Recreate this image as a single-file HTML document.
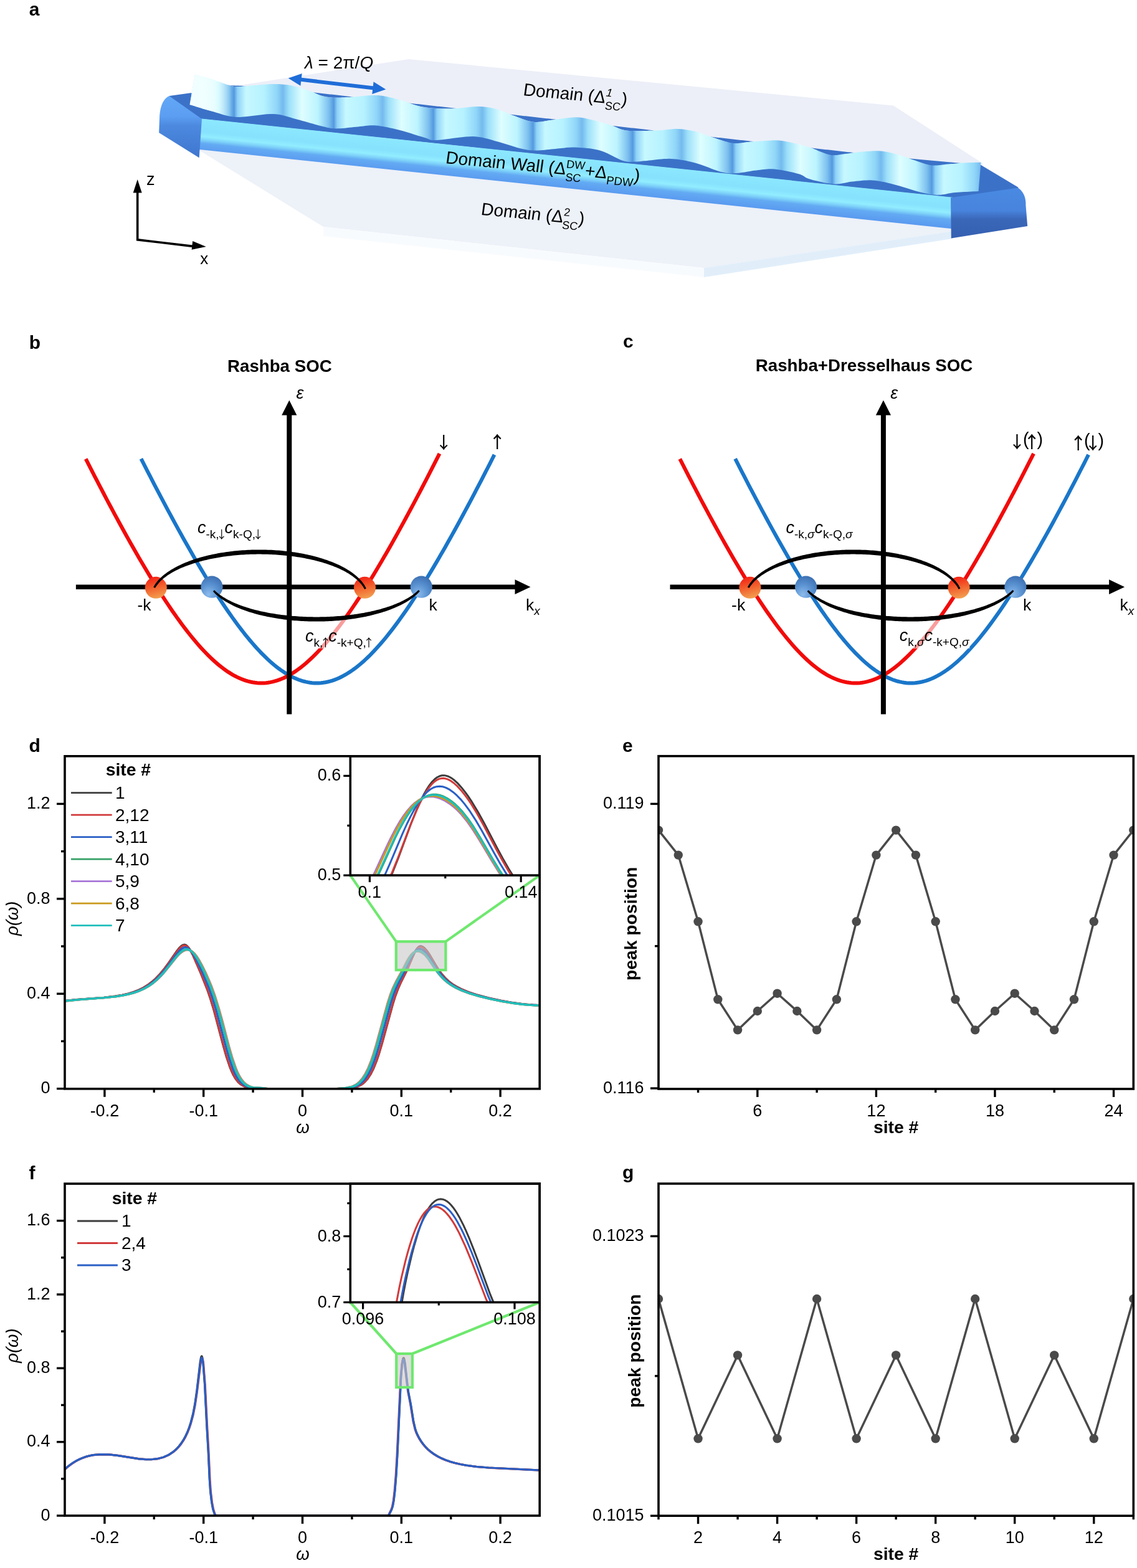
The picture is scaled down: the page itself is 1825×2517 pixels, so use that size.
<!DOCTYPE html>
<html><head><meta charset="utf-8"><title>Figure</title>
<style>html,body{margin:0;padding:0;background:#fff;} svg{display:block;}</style></head>
<body><svg xmlns="http://www.w3.org/2000/svg" width="1825" height="2517" viewBox="0 0 1825 2517" font-family="'Liberation Sans', Arial, sans-serif">
<defs><linearGradient id="gRed" x1="0.3" y1="0" x2="0.55" y2="1">
<stop offset="0" stop-color="#f41e14"/><stop offset="0.45" stop-color="#f25a2a"/><stop offset="1" stop-color="#f2a050"/></linearGradient>
<radialGradient id="gBlue" cx="0.4" cy="0.75" r="0.8" fx="0.35" fy="0.85">
<stop offset="0" stop-color="#8dbcec"/><stop offset="0.5" stop-color="#5b93d2"/><stop offset="1" stop-color="#3a6db0"/></radialGradient><linearGradient id="gFront" gradientUnits="userSpaceOnUse" x1="924" y1="252" x2="918.8" y2="303">
<stop offset="0" stop-color="#8ce8fe"/><stop offset="0.4" stop-color="#86e2fd"/><stop offset="0.55" stop-color="#92edff"/><stop offset="0.66" stop-color="#7cd0f9"/><stop offset="0.76" stop-color="#63aaf3"/><stop offset="1" stop-color="#5a9bf0"/></linearGradient>
<linearGradient id="gCapL" x1="0" y1="0" x2="0" y2="1">
<stop offset="0" stop-color="#62a8f6"/><stop offset="0.33" stop-color="#5c9ef2"/><stop offset="0.48" stop-color="#4c89df"/><stop offset="1" stop-color="#3f76cf"/></linearGradient>
<linearGradient id="gCapR" x1="0" y1="0" x2="0" y2="1">
<stop offset="0" stop-color="#4a8ae2"/><stop offset="0.45" stop-color="#4884dd"/><stop offset="0.62" stop-color="#3a67b8"/><stop offset="1" stop-color="#3560b2"/></linearGradient>
<linearGradient id="gRib" gradientUnits="userSpaceOnUse" x1="375.7" y1="0" x2="535.7" y2="0" spreadMethod="repeat">
<stop offset="0" stop-color="#5499df"/><stop offset="0.035" stop-color="#8ed2f8"/><stop offset="0.12" stop-color="#c6f8ff"/><stop offset="0.3" stop-color="#b6f2ff"/><stop offset="0.43" stop-color="#90d6f8"/><stop offset="0.49" stop-color="#74baee"/><stop offset="0.55" stop-color="#9ce0fa"/><stop offset="0.68" stop-color="#defeff"/><stop offset="0.84" stop-color="#bcf4ff"/><stop offset="0.95" stop-color="#7cc0ef"/><stop offset="1" stop-color="#5499df"/></linearGradient>
<linearGradient id="gRibL" gradientUnits="userSpaceOnUse" x1="305" y1="0" x2="372" y2="0">
<stop offset="0" stop-color="#f4ffff" stop-opacity="1"/><stop offset="0.55" stop-color="#f0ffff" stop-opacity="0.85"/><stop offset="1" stop-color="#f0ffff" stop-opacity="0"/></linearGradient><clipPath id="clipd"><rect x="104" y="1213.8" width="762.2" height="534"/></clipPath><clipPath id="clipind"><rect x="562.3" y="1213.8" width="303.9" height="191.3"/></clipPath><clipPath id="clipf"><rect x="104" y="1900.1" width="762.2" height="532.9"/></clipPath><clipPath id="clipinf"><rect x="562.3" y="1900.1" width="303.9" height="190.4"/></clipPath><clipPath id="clipe"><rect x="1057" y="1213.7" width="762.3" height="534.3"/></clipPath><clipPath id="clipg"><rect x="1057" y="1900" width="762.3" height="533.2"/></clipPath></defs>
<rect width="1825" height="2517" fill="#fff"/>
<polygon points="306,149 655.8,95 1434,169.4 1577,262 1577,320 330,200" fill="#eceff8"/>
<polygon points="321,200 321,242 519,364 1130,430 1529,371 1529,300" fill="#edf1f8"/>
<polygon points="519,364 1130,430 1130,445 519,379" fill="#f8fbfe"/>
<polygon points="1130,430 1529,371 1529,383 1130,445" fill="#e1eefa"/>
<polygon points="271.6,154.1 305.7,149.3 1574.7,264.9 1634,300.6 1638,312 1530,330 1526,317 324,191 300,200" fill="#3b72c8"/>
<polygon points="321,190.2 1529,316.8 1529,367.3 318,239.8" fill="url(#gFront)"/>
<path d="M271.6,154.1 L324,191 L319.7,253.3 L255.2,213.1 L256.2,185 Q258.5,160 271.6,154.1 Z" fill="url(#gCapL)"/>
<path d="M1526,317.3 L1634,301.5 Q1647,310 1646.5,330 L1649.2,363 L1526.8,382.5 Z" fill="url(#gCapR)"/>
<polygon points="313,119.5 315.11,120.07 317.21,120.64 319.32,121.2 321.42,121.76 323.53,122.32 325.64,122.89 327.74,123.47 329.85,124.07 331.95,124.69 334.06,125.33 336.16,126 338.27,126.7 340.38,127.42 342.48,128.15 344.59,128.89 346.69,129.64 348.8,130.38 350.91,131.11 353.01,131.84 355.12,132.6 357.22,133.36 359.33,134.12 361.43,134.87 363.54,135.6 365.65,136.29 367.75,136.8 369.86,137.04 371.96,137.14 374.07,137.22 376.18,137.31 378.28,137.4 380.39,137.49 382.49,137.57 384.6,137.66 386.7,137.75 388.81,137.84 390.92,137.92 393.02,138.01 395.13,138.1 397.23,137.98 399.34,137.81 401.45,137.64 403.55,137.47 405.66,137.28 407.76,137.09 409.87,136.89 411.97,136.69 414.08,136.5 416.19,136.31 418.29,136.12 420.4,135.94 422.5,135.76 424.61,135.6 426.72,135.44 428.82,135.3 430.93,135.17 433.03,135.07 435.14,134.97 437.24,134.93 439.35,134.9 441.46,134.9 443.56,134.92 445.67,134.96 447.77,135.03 449.88,135.13 451.99,135.26 454.09,135.42 456.2,135.61 458.3,135.85 460.41,136.12 462.51,136.43 464.62,136.76 466.73,137.14 468.83,137.56 470.94,138.01 473.04,138.52 475.15,139.07 477.26,139.65 479.36,140.26 481.47,140.9 483.57,141.56 485.68,142.24 487.78,142.94 489.89,143.64 492,144.36 494.1,145.08 496.21,145.8 498.31,146.54 500.42,147.34 502.53,148.21 504.63,148.57 506.74,148.8 508.84,149.04 510.95,149.27 513.06,149.51 515.16,149.74 517.27,149.98 519.37,150.21 521.48,150.44 523.58,150.68 525.69,150.91 527.8,151.15 529.9,151.38 532.01,151.62 534.11,151.85 536.22,152.09 538.33,152.32 540.43,152.56 542.54,152.79 544.64,153.03 546.75,153.26 548.85,153.5 550.96,153.73 553.07,153.97 555.17,154.2 557.28,154.44 559.38,154.67 561.49,154.91 563.6,155.14 565.7,155.38 567.81,155.5 569.91,155.33 572.02,155.14 574.12,154.95 576.23,154.74 578.34,154.53 580.44,154.32 582.55,154.11 584.65,153.9 586.76,153.71 588.87,153.53 590.97,153.37 593.08,153.25 595.18,153.16 597.29,153.07 599.39,152.99 601.5,152.93 603.61,152.92 605.71,152.97 607.82,153.11 609.92,153.31 612.03,153.58 614.14,153.89 616.24,154.24 618.35,154.63 620.45,155.05 622.56,155.49 624.66,155.95 626.77,156.44 628.88,156.94 630.98,157.46 633.09,157.99 635.19,158.53 637.3,159.09 639.41,159.66 641.51,160.24 643.62,160.85 645.72,161.48 647.83,162.18 649.93,162.9 652.04,163.65 654.15,164.42 656.25,165.19 658.36,165.71 660.46,165.94 662.57,166.18 664.68,166.41 666.78,166.65 668.89,166.88 670.99,167.12 673.1,167.35 675.21,167.59 677.31,167.82 679.42,168.05 681.52,168.29 683.63,168.52 685.73,168.76 687.84,168.99 689.95,169.23 692.05,169.46 694.16,169.7 696.26,169.93 698.37,170.17 700.48,170.4 702.58,170.64 704.69,170.87 706.79,171.11 708.9,171.34 711,171.58 713.11,171.81 715.22,172.05 717.32,172.28 719.43,172.52 721.53,172.75 723.64,172.99 725.75,173.22 727.85,173.46 729.96,173.69 732.06,173.92 734.17,173.96 736.27,173.77 738.38,173.55 740.49,173.33 742.59,173.09 744.7,172.85 746.8,172.61 748.91,172.37 751.02,172.14 753.12,171.91 755.23,171.7 757.33,171.51 759.44,171.34 761.54,171.19 763.65,171.08 765.76,171.03 767.86,171 769.97,171.05 772.07,171.14 774.18,171.26 776.29,171.44 778.39,171.64 780.5,171.89 782.6,172.2 784.71,172.54 786.81,172.92 788.92,173.33 791.03,173.79 793.13,174.27 795.24,174.78 797.34,175.31 799.45,175.91 801.56,176.57 803.66,177.31 805.77,178.12 807.87,178.97 809.98,179.87 812.08,180.78 814.19,181.69 816.3,182.57 818.4,183.42 820.51,183.79 822.61,184.02 824.72,184.26 826.83,184.49 828.93,184.73 831.04,184.96 833.14,185.2 835.25,185.43 837.35,185.67 839.46,185.9 841.57,186.13 843.67,186.37 845.78,186.6 847.88,186.84 849.99,187.07 852.1,187.31 854.2,187.54 856.31,187.78 858.41,188.01 860.52,188.25 862.63,188.48 864.73,188.72 866.84,188.95 868.94,189.19 871.05,189.42 873.15,189.66 875.26,189.89 877.37,190.13 879.47,190.36 881.58,190.6 883.68,190.83 885.79,191.07 887.9,191.3 890,191.54 892.11,191.77 894.21,191.54 896.32,191.23 898.42,190.92 900.53,190.61 902.64,190.3 904.74,190 906.85,189.71 908.95,189.44 911.06,189.2 913.17,188.99 915.27,188.8 917.38,188.63 919.48,188.47 921.59,188.33 923.69,188.24 925.8,188.23 927.91,188.31 930.01,188.48 932.12,188.71 934.22,189 936.33,189.34 938.44,189.74 940.54,190.17 942.65,190.63 944.75,191.11 946.86,191.61 948.96,192.12 951.07,192.65 953.18,193.18 955.28,193.73 957.39,194.28 959.49,194.83 961.6,195.38 963.71,195.94 965.81,196.5 967.92,197.09 970.02,197.69 972.13,198.32 974.23,198.96 976.34,199.63 978.45,200.33 980.55,201.04 982.66,201.77 984.76,202.1 986.87,202.34 988.98,202.57 991.08,202.81 993.19,203.04 995.29,203.28 997.4,203.51 999.5,203.74 1001.61,203.98 1003.72,204.21 1005.82,204.45 1007.93,204.68 1010.03,204.92 1012.14,205.15 1014.25,205.39 1016.35,205.62 1018.46,205.86 1020.56,206.09 1022.67,206.33 1024.77,206.56 1026.88,206.8 1028.99,207.03 1031.09,207.27 1033.2,207.5 1035.3,207.74 1037.41,207.97 1039.52,208.21 1041.62,208.44 1043.73,208.68 1045.83,208.91 1047.94,209.15 1050.05,209.38 1052.15,209.48 1054.26,209.39 1056.36,209.29 1058.47,209.2 1060.57,209.06 1062.68,208.91 1064.79,208.73 1066.89,208.5 1069,208.27 1071.1,208.02 1073.21,207.77 1075.32,207.53 1077.42,207.32 1079.53,207.13 1081.63,206.98 1083.74,206.9 1085.84,206.88 1087.95,206.92 1090.06,207.02 1092.16,207.17 1094.27,207.35 1096.37,207.57 1098.48,207.82 1100.59,208.1 1102.69,208.41 1104.8,208.75 1106.9,209.11 1109.01,209.49 1111.11,209.89 1113.22,210.32 1115.33,210.77 1117.43,211.26 1119.54,211.8 1121.64,212.45 1123.75,213.2 1125.86,214.05 1127.96,214.93 1130.07,215.79 1132.17,216.59 1134.28,217.33 1136.38,218.03 1138.49,218.72 1140.6,219.42 1142.7,219.71 1144.81,219.95 1146.91,220.18 1149.02,220.42 1151.13,220.65 1153.23,220.89 1155.34,221.12 1157.44,221.35 1159.55,221.59 1161.65,221.82 1163.76,222.06 1165.87,222.29 1167.97,222.53 1170.08,222.76 1172.18,223 1174.29,223.23 1176.4,223.47 1178.5,223.7 1180.61,223.94 1182.71,224.17 1184.82,224.41 1186.92,224.64 1189.03,224.88 1191.14,225.11 1193.24,225.35 1195.35,225.58 1197.45,225.82 1199.56,226.05 1201.67,226.29 1203.77,226.52 1205.88,226.76 1207.98,226.99 1210.09,227.22 1212.19,227.14 1214.3,226.98 1216.41,226.82 1218.51,226.66 1220.62,226.51 1222.72,226.35 1224.83,226.21 1226.94,226.07 1229.04,225.94 1231.15,225.82 1233.25,225.72 1235.36,225.62 1237.47,225.5 1239.57,225.38 1241.68,225.27 1243.78,225.2 1245.89,225.19 1247.99,225.26 1250.1,225.4 1252.21,225.61 1254.31,225.88 1256.42,226.19 1258.52,226.53 1260.63,226.91 1262.74,227.31 1264.84,227.72 1266.95,228.15 1269.05,228.6 1271.16,229.06 1273.26,229.52 1275.37,230 1277.48,230.48 1279.58,230.98 1281.69,231.48 1283.79,231.99 1285.9,232.52 1288.01,233.07 1290.11,233.66 1292.22,234.29 1294.32,234.95 1296.43,235.64 1298.53,236.34 1300.64,237.04 1302.75,237.56 1304.85,237.79 1306.96,238.03 1309.06,238.26 1311.17,238.5 1313.28,238.73 1315.38,238.97 1317.49,239.2 1319.59,239.43 1321.7,239.67 1323.8,239.9 1325.91,240.14 1328.02,240.37 1330.12,240.61 1332.23,240.84 1334.33,241.08 1336.44,241.31 1338.55,241.55 1340.65,241.78 1342.76,242.02 1344.86,242.25 1346.97,242.49 1349.07,242.72 1351.18,242.96 1353.29,243.19 1355.39,243.43 1357.5,243.66 1359.6,243.9 1361.71,244.13 1363.82,244.37 1365.92,244.6 1368.03,244.84 1370.13,245.07 1372.24,244.92 1374.34,244.64 1376.45,244.36 1378.56,244.09 1380.66,243.85 1382.77,243.62 1384.87,243.41 1386.98,243.25 1389.09,243.1 1391.19,242.96 1393.3,242.82 1395.4,242.68 1397.51,242.56 1399.62,242.46 1401.72,242.38 1403.83,242.32 1405.93,242.29 1408.04,242.29 1410.14,242.35 1412.25,242.44 1414.36,242.58 1416.46,242.77 1418.57,243.03 1420.67,243.34 1422.78,243.7 1424.89,244.12 1426.99,244.56 1429.1,245.04 1431.2,245.55 1433.31,246.09 1435.41,246.64 1437.52,247.22 1439.63,247.8 1441.73,248.39 1443.84,248.99 1445.94,249.58 1448.05,250.2 1450.16,250.86 1452.26,251.58 1454.37,252.35 1456.47,253.15 1458.58,253.96 1460.68,254.74 1462.79,255.4 1464.9,255.64 1467,255.87 1469.11,256.11 1471.21,256.34 1473.32,256.58 1475.43,256.81 1477.53,257.04 1479.64,257.28 1481.74,257.51 1483.85,257.75 1485.95,257.98 1488.06,258.22 1490.17,258.45 1492.27,258.69 1494.38,258.92 1496.48,259.16 1498.59,259.39 1500.7,259.63 1502.8,259.86 1504.91,260.1 1507.01,260.33 1509.12,260.57 1511.22,260.8 1513.33,261.04 1515.44,261.27 1517.54,261.51 1519.65,261.74 1521.75,261.98 1523.86,262.21 1525.97,262.45 1528.07,262.68 1530.18,262.79 1532.28,262.61 1534.39,262.42 1536.49,262.24 1538.6,262.05 1540.71,261.88 1542.81,261.71 1544.92,261.56 1547.02,261.42 1549.13,261.3 1551.24,261.2 1553.34,261.12 1555.45,261.05 1557.55,261 1559.66,260.95 1561.76,260.91 1563.87,260.88 1565.98,260.85 1568.08,260.82 1570.19,260.78 1572.29,260.74 1574.4,260.7 1574.4,260.7 1572.29,260.74 1570.19,260.78 1568.08,260.82 1565.98,260.85 1563.87,260.88 1561.76,260.91 1559.66,260.95 1557.55,261 1555.45,261.05 1553.34,261.12 1551.24,261.2 1549.13,261.3 1547.02,261.42 1544.92,261.56 1542.81,261.71 1540.71,261.88 1538.6,262.05 1536.49,262.24 1534.39,262.42 1532.28,262.61 1530.18,262.79 1528.07,262.97 1525.97,263.14 1523.86,263.3 1521.75,263.48 1519.65,263.7 1517.54,263.94 1515.44,264.2 1513.33,264.46 1511.22,264.72 1509.12,264.96 1507.01,265.16 1504.91,265.32 1502.8,265.44 1500.7,265.5 1498.59,265.47 1496.48,265.36 1494.38,265.17 1492.27,264.84 1490.17,264.43 1488.06,263.94 1485.95,263.39 1483.85,262.77 1481.74,262.11 1479.64,261.41 1477.53,260.67 1475.43,259.92 1473.32,259.16 1471.21,258.39 1469.11,257.63 1467,256.9 1464.9,256.2 1462.79,255.49 1460.68,254.74 1458.58,253.96 1456.47,253.15 1454.37,252.35 1452.26,251.58 1450.16,250.86 1448.05,250.2 1445.94,249.58 1443.84,248.99 1441.73,248.39 1439.63,247.8 1437.52,247.22 1435.41,246.64 1433.31,246.09 1431.2,245.55 1429.1,245.04 1426.99,244.56 1424.89,244.12 1422.78,243.7 1420.67,243.34 1418.57,243.03 1416.46,242.77 1414.36,242.58 1412.25,242.44 1410.14,242.35 1408.04,242.29 1405.93,242.29 1403.83,242.32 1401.72,242.38 1399.62,242.46 1397.51,242.56 1395.4,242.68 1393.3,242.82 1391.19,242.96 1389.09,243.1 1386.98,243.25 1384.87,243.41 1382.77,243.62 1380.66,243.85 1378.56,244.09 1376.45,244.36 1374.34,244.64 1372.24,244.92 1370.13,245.21 1368.03,245.5 1365.92,245.79 1363.82,246.07 1361.71,246.33 1359.6,246.57 1357.5,246.81 1355.39,247.07 1353.29,247.39 1351.18,247.75 1349.07,248.11 1346.97,248.45 1344.86,248.75 1342.76,248.99 1340.65,249.13 1338.55,249.17 1336.44,249.07 1334.33,248.85 1332.23,248.52 1330.12,248.08 1328.02,247.48 1325.91,246.83 1323.8,246.13 1321.7,245.35 1319.59,244.55 1317.49,243.72 1315.38,242.86 1313.28,241.99 1311.17,241.11 1309.06,240.24 1306.96,239.38 1304.85,238.55 1302.75,237.78 1300.64,237.04 1298.53,236.34 1296.43,235.64 1294.32,234.95 1292.22,234.29 1290.11,233.66 1288.01,233.07 1285.9,232.52 1283.79,231.99 1281.69,231.48 1279.58,230.98 1277.48,230.48 1275.37,230 1273.26,229.52 1271.16,229.06 1269.05,228.6 1266.95,228.15 1264.84,227.72 1262.74,227.31 1260.63,226.91 1258.52,226.53 1256.42,226.19 1254.31,225.88 1252.21,225.61 1250.1,225.4 1247.99,225.26 1245.89,225.19 1243.78,225.2 1241.68,225.27 1239.57,225.38 1237.47,225.5 1235.36,225.62 1233.25,225.72 1231.15,225.82 1229.04,225.94 1226.94,226.07 1224.83,226.21 1222.72,226.35 1220.62,226.51 1218.51,226.66 1216.41,226.82 1214.3,226.98 1212.19,227.14 1210.09,227.3 1207.98,227.45 1205.88,227.6 1203.77,227.76 1201.67,227.94 1199.56,228.2 1197.45,228.48 1195.35,228.79 1193.24,229.11 1191.14,229.4 1189.03,229.65 1186.92,229.86 1184.82,230.01 1182.71,230.06 1180.61,230.04 1178.5,229.96 1176.4,229.73 1174.29,229.44 1172.18,229.07 1170.08,228.61 1167.97,228.12 1165.87,227.57 1163.76,227 1161.65,226.38 1159.55,225.75 1157.44,225.08 1155.34,224.41 1153.23,223.71 1151.13,223.01 1149.02,222.3 1146.91,221.58 1144.81,220.86 1142.7,220.14 1140.6,219.42 1138.49,218.72 1136.38,218.03 1134.28,217.33 1132.17,216.59 1130.07,215.79 1127.96,214.93 1125.86,214.05 1123.75,213.2 1121.64,212.45 1119.54,211.8 1117.43,211.26 1115.33,210.77 1113.22,210.32 1111.11,209.89 1109.01,209.49 1106.9,209.11 1104.8,208.75 1102.69,208.41 1100.59,208.1 1098.48,207.82 1096.37,207.57 1094.27,207.35 1092.16,207.17 1090.06,207.02 1087.95,206.92 1085.84,206.88 1083.74,206.9 1081.63,206.98 1079.53,207.13 1077.42,207.32 1075.32,207.53 1073.21,207.77 1071.1,208.02 1069,208.27 1066.89,208.5 1064.79,208.73 1062.68,208.91 1060.57,209.06 1058.47,209.2 1056.36,209.29 1054.26,209.39 1052.15,209.48 1050.05,209.56 1047.94,209.64 1045.83,209.71 1043.73,209.79 1041.62,209.85 1039.52,209.92 1037.41,209.97 1035.3,210.03 1033.2,210.08 1031.09,210.12 1028.99,210.15 1026.88,210.18 1024.77,210.2 1022.67,210.22 1020.56,210.21 1018.46,210.19 1016.35,210.15 1014.25,210.11 1012.14,210.05 1010.03,209.95 1007.93,209.8 1005.82,209.57 1003.72,209.25 1001.61,208.85 999.5,208.37 997.4,207.77 995.29,207.04 993.19,206.21 991.08,205.31 988.98,204.37 986.87,203.44 984.76,202.57 982.66,201.77 980.55,201.04 978.45,200.33 976.34,199.63 974.23,198.96 972.13,198.32 970.02,197.69 967.92,197.09 965.81,196.5 963.71,195.94 961.6,195.38 959.49,194.83 957.39,194.28 955.28,193.73 953.18,193.18 951.07,192.65 948.96,192.12 946.86,191.61 944.75,191.11 942.65,190.63 940.54,190.17 938.44,189.74 936.33,189.34 934.22,189 932.12,188.71 930.01,188.48 927.91,188.31 925.8,188.23 923.69,188.24 921.59,188.33 919.48,188.47 917.38,188.63 915.27,188.8 913.17,188.99 911.06,189.2 908.95,189.44 906.85,189.71 904.74,190 902.64,190.3 900.53,190.61 898.42,190.92 896.32,191.23 894.21,191.54 892.11,191.85 890,192.14 887.9,192.43 885.79,192.69 883.68,192.96 881.58,193.26 879.47,193.6 877.37,193.98 875.26,194.35 873.15,194.73 871.05,195.08 868.94,195.39 866.84,195.65 864.73,195.86 862.63,195.97 860.52,195.99 858.41,195.93 856.31,195.75 854.2,195.45 852.1,195.08 849.99,194.6 847.88,194.04 845.78,193.45 843.67,192.77 841.57,192.07 839.46,191.33 837.35,190.56 835.25,189.78 833.14,188.97 831.04,188.16 828.93,187.35 826.83,186.55 824.72,185.77 822.61,185.01 820.51,184.23 818.4,183.42 816.3,182.57 814.19,181.69 812.08,180.78 809.98,179.87 807.87,178.97 805.77,178.12 803.66,177.31 801.56,176.57 799.45,175.91 797.34,175.31 795.24,174.78 793.13,174.27 791.03,173.79 788.92,173.33 786.81,172.92 784.71,172.54 782.6,172.2 780.5,171.89 778.39,171.64 776.29,171.44 774.18,171.26 772.07,171.14 769.97,171.05 767.86,171 765.76,171.03 763.65,171.08 761.54,171.19 759.44,171.34 757.33,171.51 755.23,171.7 753.12,171.91 751.02,172.14 748.91,172.37 746.8,172.61 744.7,172.85 742.59,173.09 740.49,173.33 738.38,173.55 736.27,173.77 734.17,173.96 732.06,174.12 729.96,174.25 727.85,174.35 725.75,174.44 723.64,174.5 721.53,174.55 719.43,174.58 717.32,174.6 715.22,174.59 713.11,174.57 711,174.53 708.9,174.47 706.79,174.39 704.69,174.29 702.58,174.17 700.48,174.03 698.37,173.88 696.26,173.72 694.16,173.56 692.05,173.37 689.95,173.17 687.84,172.95 685.73,172.7 683.63,172.43 681.52,172.12 679.42,171.78 677.31,171.41 675.21,171 673.1,170.54 670.99,170.04 668.89,169.49 666.78,168.86 664.68,168.18 662.57,167.47 660.46,166.73 658.36,165.97 656.25,165.19 654.15,164.42 652.04,163.65 649.93,162.9 647.83,162.18 645.72,161.48 643.62,160.85 641.51,160.24 639.41,159.66 637.3,159.09 635.19,158.53 633.09,157.99 630.98,157.46 628.88,156.94 626.77,156.44 624.66,155.95 622.56,155.49 620.45,155.05 618.35,154.63 616.24,154.24 614.14,153.89 612.03,153.58 609.92,153.31 607.82,153.11 605.71,152.97 603.61,152.92 601.5,152.93 599.39,152.99 597.29,153.07 595.18,153.16 593.08,153.25 590.97,153.37 588.87,153.53 586.76,153.71 584.65,153.9 582.55,154.11 580.44,154.32 578.34,154.53 576.23,154.74 574.12,154.95 572.02,155.14 569.91,155.33 567.81,155.5 565.7,155.65 563.6,155.78 561.49,155.9 559.38,156.03 557.28,156.15 555.17,156.27 553.07,156.38 550.96,156.48 548.85,156.57 546.75,156.65 544.64,156.71 542.54,156.75 540.43,156.77 538.33,156.77 536.22,156.71 534.11,156.63 532.01,156.5 529.9,156.34 527.8,156.12 525.69,155.84 523.58,155.5 521.48,155.08 519.37,154.59 517.27,154.06 515.16,153.45 513.06,152.74 510.95,151.92 508.84,151.02 506.74,150.07 504.63,149.12 502.53,148.21 500.42,147.34 498.31,146.54 496.21,145.8 494.1,145.08 492,144.36 489.89,143.64 487.78,142.94 485.68,142.24 483.57,141.56 481.47,140.9 479.36,140.26 477.26,139.65 475.15,139.07 473.04,138.52 470.94,138.01 468.83,137.56 466.73,137.14 464.62,136.76 462.51,136.43 460.41,136.12 458.3,135.85 456.2,135.61 454.09,135.42 451.99,135.26 449.88,135.13 447.77,135.03 445.67,134.96 443.56,134.92 441.46,134.9 439.35,134.9 437.24,134.93 435.14,134.97 433.03,135.07 430.93,135.17 428.82,135.3 426.72,135.44 424.61,135.6 422.5,135.76 420.4,135.94 418.29,136.12 416.19,136.31 414.08,136.5 411.97,136.69 409.87,136.89 407.76,137.09 405.66,137.28 403.55,137.47 401.45,137.64 399.34,137.81 397.23,137.98 395.13,138.16 393.02,138.35 390.92,138.55 388.81,138.75 386.7,138.94 384.6,139.1 382.49,139.19 380.39,139.2 378.28,139.13 376.18,138.94 374.07,138.6 371.96,138.1 369.86,137.52 367.75,136.93 365.65,136.29 363.54,135.6 361.43,134.87 359.33,134.12 357.22,133.36 355.12,132.6 353.01,131.84 350.91,131.11 348.8,130.38 346.69,129.64 344.59,128.89 342.48,128.15 340.38,127.42 338.27,126.7 336.16,126 334.06,125.33 331.95,124.69 329.85,124.07 327.74,123.47 325.64,122.89 323.53,122.32 321.42,121.76 319.32,121.2 317.21,120.64 315.11,120.07 313,119.5" fill="#3b72c8"/>
<polygon points="313,119.5 315.01,120.05 317.04,120.59 319.08,121.13 321.12,121.68 323.15,122.22 325.17,122.76 327.18,123.31 329.15,123.87 331.1,124.43 333,125 334.86,125.58 336.68,126.17 338.46,126.76 340.22,127.36 341.96,127.97 343.69,128.58 345.41,129.18 347.13,129.79 348.86,130.4 350.6,131 352.37,131.62 354.18,132.26 356,132.92 357.83,133.58 359.65,134.24 361.44,134.87 363.18,135.48 364.87,136.04 366.48,136.55 368,137 369.38,137.39 370.63,137.74 371.76,138.05 372.83,138.33 373.87,138.56 374.92,138.76 376.02,138.92 377.21,139.05 378.52,139.14 380,139.2 381.56,139.21 383.11,139.17 384.69,139.09 386.33,138.97 388.07,138.82 389.94,138.64 391.99,138.44 394.24,138.23 396.73,138.02 399.5,137.8 402.65,137.55 406.19,137.23 410.05,136.87 414.13,136.49 418.34,136.11 422.61,135.75 426.83,135.43 430.93,135.16 434.82,134.98 438.4,134.9 441.71,134.9 444.86,134.94 447.87,135.03 450.78,135.18 453.61,135.38 456.39,135.63 459.15,135.95 461.92,136.33 464.72,136.78 467.6,137.3 470.56,137.92 473.6,138.65 476.67,139.48 479.75,140.37 482.81,141.31 485.82,142.28 488.75,143.26 491.58,144.22 494.27,145.14 496.8,146 499.14,146.84 501.32,147.7 503.37,148.56 505.3,149.42 507.16,150.26 508.97,151.08 510.76,151.85 512.56,152.57 514.4,153.22 516.3,153.8 518.2,154.31 520.03,154.76 521.82,155.15 523.6,155.5 525.39,155.8 527.24,156.06 529.16,156.27 531.19,156.45 533.36,156.59 535.7,156.7 538.22,156.76 540.91,156.77 543.74,156.73 546.67,156.65 549.69,156.54 552.75,156.4 555.83,156.23 558.9,156.06 561.94,155.88 564.9,155.7 567.86,155.5 570.9,155.25 573.97,154.96 577.05,154.66 580.11,154.35 583.12,154.05 586.05,153.77 588.88,153.53 591.57,153.33 594.1,153.2 596.4,153.11 598.47,153.02 600.36,152.96 602.13,152.92 603.85,152.92 605.57,152.96 607.34,153.07 609.23,153.23 611.3,153.47 613.6,153.8 616.13,154.22 618.82,154.72 621.65,155.29 624.58,155.93 627.59,156.63 630.65,157.37 633.73,158.15 636.8,158.96 639.84,159.77 642.8,160.6 645.73,161.48 648.66,162.45 651.6,163.49 654.54,164.56 657.47,165.64 660.41,166.71 663.33,167.74 666.24,168.7 669.13,169.56 672,170.3 674.84,170.93 677.66,171.48 680.45,171.96 683.23,172.38 686,172.74 688.77,173.05 691.55,173.33 694.34,173.57 697.16,173.79 700,174 702.83,174.18 705.61,174.34 708.37,174.45 711.13,174.54 713.92,174.59 716.76,174.6 719.69,174.58 722.72,174.52 725.88,174.43 729.2,174.3 732.74,174.08 736.51,173.75 740.46,173.34 744.53,172.87 748.65,172.4 752.77,171.95 756.84,171.54 760.79,171.23 764.56,171.04 768.1,171 771.43,171.1 774.62,171.29 777.7,171.56 780.67,171.91 783.55,172.34 786.37,172.83 789.13,173.37 791.86,173.97 794.58,174.62 797.3,175.3 799.95,176.05 802.48,176.88 804.93,177.78 807.33,178.74 809.71,179.75 812.11,180.79 814.56,181.85 817.1,182.91 819.77,183.97 822.6,185 825.61,186.09 828.78,187.29 832.08,188.56 835.47,189.86 838.91,191.14 842.37,192.35 845.81,193.46 849.2,194.41 852.51,195.18 855.7,195.7 858.78,195.97 861.79,196.01 864.75,195.86 867.66,195.57 870.54,195.16 873.41,194.68 876.26,194.17 879.12,193.66 882,193.19 884.9,192.8 887.86,192.43 890.9,192.02 893.97,191.58 897.05,191.12 900.11,190.67 903.12,190.23 906.05,189.81 908.88,189.45 911.57,189.14 914.1,188.9 916.4,188.71 918.47,188.54 920.36,188.4 922.13,188.29 923.85,188.23 925.57,188.22 927.34,188.28 929.23,188.4 931.3,188.61 933.6,188.9 936.17,189.31 938.98,189.84 941.96,190.47 945.05,191.17 948.21,191.93 951.36,192.72 954.45,193.51 957.43,194.29 960.23,195.03 962.8,195.7 965.14,196.32 967.33,196.92 969.39,197.5 971.34,198.08 973.21,198.64 975.03,199.21 976.81,199.78 978.58,200.37 980.37,200.97 982.2,201.6 984.04,202.27 985.84,203 987.6,203.76 989.35,204.54 991.09,205.31 992.83,206.07 994.59,206.78 996.36,207.44 998.16,208.02 1000,208.5 1001.79,208.89 1003.48,209.22 1005.11,209.48 1006.75,209.68 1008.43,209.84 1010.22,209.96 1012.17,210.05 1014.33,210.12 1016.76,210.16 1019.5,210.2 1022.65,210.22 1026.19,210.19 1030.05,210.14 1034.13,210.06 1038.34,209.95 1042.61,209.82 1046.83,209.68 1050.93,209.53 1054.82,209.36 1058.4,209.2 1061.71,208.99 1064.86,208.72 1067.87,208.4 1070.78,208.06 1073.61,207.72 1076.39,207.41 1079.15,207.15 1081.92,206.96 1084.72,206.87 1087.6,206.9 1090.56,207.04 1093.6,207.28 1096.67,207.6 1099.75,207.98 1102.81,208.43 1105.82,208.91 1108.75,209.44 1111.58,209.98 1114.27,210.54 1116.8,211.1 1119.06,211.66 1121.01,212.23 1122.75,212.82 1124.37,213.44 1125.94,214.09 1127.57,214.77 1129.33,215.5 1131.31,216.28 1133.61,217.11 1136.3,218 1139.45,219.03 1142.99,220.24 1146.85,221.56 1150.93,222.95 1155.14,224.35 1159.41,225.71 1163.63,226.96 1167.73,228.07 1171.62,228.97 1175.2,229.6 1178.51,229.96 1181.66,230.09 1184.67,230.03 1187.58,229.82 1190.41,229.5 1193.19,229.12 1195.95,228.7 1198.72,228.3 1201.52,227.95 1204.4,227.7 1207.36,227.5 1210.4,227.27 1213.47,227.04 1216.55,226.81 1219.61,226.58 1222.63,226.36 1225.56,226.16 1228.39,225.97 1231.08,225.82 1233.6,225.7 1235.89,225.59 1237.95,225.48 1239.83,225.37 1241.6,225.27 1243.3,225.21 1245,225.18 1246.77,225.2 1248.65,225.29 1250.71,225.45 1253,225.7 1255.57,226.05 1258.37,226.5 1261.35,227.04 1264.44,227.64 1267.59,228.29 1270.75,228.96 1273.84,229.65 1276.82,230.33 1279.63,230.99 1282.2,231.6 1284.49,232.16 1286.53,232.68 1288.39,233.17 1290.13,233.66 1291.81,234.16 1293.51,234.69 1295.28,235.26 1297.19,235.89 1299.31,236.6 1301.7,237.4 1304.39,238.37 1307.32,239.52 1310.44,240.8 1313.7,242.16 1317.04,243.54 1320.41,244.87 1323.75,246.11 1327.02,247.2 1330.15,248.08 1333.1,248.7 1335.86,249.05 1338.49,249.18 1341.02,249.12 1343.47,248.93 1345.89,248.62 1348.29,248.25 1350.72,247.83 1353.19,247.41 1355.74,247.02 1358.4,246.7 1361.16,246.4 1363.99,246.05 1366.87,245.66 1369.8,245.26 1372.76,244.85 1375.73,244.45 1378.72,244.07 1381.7,243.73 1384.66,243.43 1387.6,243.2 1390.52,243 1393.44,242.81 1396.36,242.63 1399.28,242.47 1402.2,242.36 1405.12,242.29 1408.04,242.29 1410.96,242.37 1413.88,242.53 1416.8,242.8 1419.76,243.19 1422.8,243.7 1425.87,244.31 1428.95,245 1432.01,245.75 1435.02,246.53 1437.95,247.33 1440.78,248.12 1443.47,248.89 1446,249.6 1448.3,250.27 1450.37,250.93 1452.26,251.58 1454.04,252.22 1455.76,252.88 1457.47,253.54 1459.25,254.21 1461.14,254.91 1463.2,255.64 1465.5,256.4 1468.02,257.25 1470.7,258.2 1473.52,259.23 1476.44,260.29 1479.44,261.34 1482.49,262.35 1485.56,263.28 1488.62,264.09 1491.64,264.74 1494.6,265.2 1497.53,265.44 1500.5,265.51 1503.48,265.42 1506.46,265.22 1509.44,264.92 1512.4,264.58 1515.32,264.21 1518.21,263.86 1521.04,263.54 1523.8,263.3 1526.49,263.1 1529.11,262.88 1531.68,262.66 1534.2,262.44 1536.69,262.22 1539.17,262 1541.63,261.8 1544.1,261.61 1546.59,261.44 1549.1,261.3 1551.63,261.18 1554.16,261.09 1556.69,261.02 1559.22,260.96 1561.75,260.91 1564.28,260.87 1566.81,260.84 1569.34,260.8 1571.87,260.75 1574.4,260.7 1570.6,307 1566.86,307.19 1563.08,307.37 1559.25,307.54 1555.43,307.71 1551.61,307.88 1547.84,308.06 1544.13,308.26 1540.5,308.48 1536.98,308.72 1533.6,309 1530.36,309.35 1527.26,309.8 1524.27,310.31 1521.36,310.85 1518.51,311.38 1515.71,311.88 1512.91,312.32 1510.12,312.65 1507.28,312.86 1504.4,312.9 1501.52,312.8 1498.72,312.59 1495.95,312.29 1493.19,311.9 1490.41,311.42 1487.58,310.86 1484.67,310.24 1481.66,309.55 1478.51,308.8 1475.2,308 1471.69,307.09 1467.98,306.03 1464.12,304.86 1460.16,303.62 1456.12,302.32 1452.05,301.02 1448,299.75 1443.99,298.53 1440.08,297.4 1436.3,296.4 1432.63,295.48 1429,294.58 1425.43,293.7 1421.89,292.87 1418.39,292.1 1414.91,291.39 1411.46,290.77 1408.03,290.24 1404.61,289.81 1401.2,289.5 1397.79,289.33 1394.39,289.3 1391,289.39 1387.63,289.57 1384.28,289.82 1380.96,290.14 1377.68,290.48 1374.44,290.84 1371.24,291.18 1368.1,291.5 1365.07,291.87 1362.17,292.35 1359.36,292.9 1356.6,293.48 1353.86,294.06 1351.09,294.59 1348.25,295.03 1345.3,295.34 1342.2,295.48 1338.9,295.4 1335.31,295.1 1331.4,294.6 1327.28,293.94 1323.03,293.15 1318.74,292.26 1314.51,291.32 1310.42,290.35 1306.58,289.38 1303.08,288.45 1300,287.6 1297.46,286.79 1295.43,285.96 1293.77,285.13 1292.37,284.29 1291.1,283.45 1289.83,282.61 1288.43,281.77 1286.77,280.94 1284.74,280.11 1282.2,279.3 1279.12,278.46 1275.62,277.55 1271.78,276.62 1267.69,275.68 1263.46,274.76 1259.17,273.9 1254.92,273.11 1250.8,272.43 1246.89,271.88 1243.3,271.5 1240.01,271.28 1236.93,271.21 1234.01,271.26 1231.2,271.42 1228.46,271.66 1225.73,271.96 1222.98,272.3 1220.16,272.67 1217.21,273.04 1214.1,273.4 1210.78,273.8 1207.29,274.31 1203.66,274.9 1199.96,275.52 1196.24,276.15 1192.54,276.76 1188.93,277.31 1185.45,277.77 1182.16,278.11 1179.1,278.3 1176.36,278.37 1173.93,278.39 1171.72,278.34 1169.65,278.22 1167.64,278.01 1165.62,277.7 1163.49,277.3 1161.19,276.79 1158.62,276.16 1155.7,275.4 1152.44,274.44 1148.91,273.26 1145.17,271.9 1141.26,270.41 1137.22,268.85 1133.1,267.27 1128.96,265.72 1124.83,264.26 1120.76,262.94 1116.8,261.8 1112.91,260.79 1109.02,259.83 1105.13,258.93 1101.24,258.08 1097.36,257.31 1093.47,256.63 1089.58,256.03 1085.69,255.54 1081.79,255.16 1077.9,254.9 1073.91,254.81 1069.78,254.89 1065.57,255.12 1061.34,255.45 1057.15,255.87 1053.06,256.33 1049.13,256.79 1045.42,257.23 1041.99,257.61 1038.9,257.9 1036.2,258.13 1033.85,258.36 1031.79,258.58 1029.95,258.79 1028.26,258.98 1026.67,259.15 1025.12,259.29 1023.53,259.4 1021.84,259.47 1020,259.5 1018.12,259.54 1016.35,259.64 1014.62,259.75 1012.9,259.84 1011.14,259.88 1009.29,259.83 1007.3,259.65 1005.12,259.31 1002.7,258.77 1000,258 996.98,256.91 993.69,255.47 990.16,253.79 986.44,251.92 982.59,249.96 978.64,247.98 974.63,246.07 970.63,244.3 966.67,242.75 962.8,241.5 958.93,240.51 954.96,239.67 950.92,238.96 946.86,238.37 942.8,237.89 938.78,237.51 934.84,237.2 931,236.95 927.31,236.76 923.8,236.6 920.5,236.52 917.39,236.54 914.44,236.66 911.6,236.86 908.82,237.11 906.08,237.4 903.33,237.72 900.53,238.03 897.63,238.33 894.6,238.6 891.42,238.88 888.12,239.22 884.74,239.59 881.3,239.97 877.86,240.36 874.43,240.71 871.05,241.03 867.77,241.28 864.61,241.44 861.6,241.5 858.82,241.48 856.27,241.43 853.88,241.33 851.58,241.18 849.32,240.96 847.04,240.67 844.65,240.3 842.11,239.84 839.35,239.27 836.3,238.6 832.95,237.77 829.38,236.76 825.6,235.61 821.68,234.37 817.65,233.06 813.55,231.72 809.42,230.4 805.31,229.13 801.26,227.95 797.3,226.9 793.49,225.9 789.83,224.87 786.24,223.84 782.67,222.84 779.06,221.9 775.36,221.05 771.5,220.31 767.43,219.72 763.08,219.31 758.4,219.1 753.17,219.18 747.33,219.56 741.05,220.17 734.52,220.95 727.91,221.81 721.41,222.7 715.19,223.53 709.43,224.23 704.3,224.75 700,225 696.64,225.04 694.1,224.96 692.21,224.77 690.78,224.48 689.63,224.1 688.58,223.63 687.44,223.08 686.04,222.45 684.18,221.76 681.7,221 678.64,220.12 675.24,219.09 671.55,217.93 667.63,216.69 663.54,215.39 659.36,214.07 655.13,212.77 650.92,211.51 646.79,210.35 642.8,209.3 638.86,208.32 634.85,207.34 630.8,206.37 626.74,205.43 622.69,204.55 618.7,203.73 614.78,203 610.97,202.38 607.3,201.87 603.8,201.5 600.51,201.29 597.43,201.24 594.5,201.32 591.69,201.51 588.95,201.78 586.23,202.1 583.48,202.44 580.65,202.79 577.71,203.12 574.6,203.4 571.28,203.69 567.78,204.04 564.16,204.44 560.46,204.85 556.73,205.26 553.04,205.64 549.42,205.97 545.94,206.22 542.65,206.37 539.6,206.4 536.87,206.32 534.44,206.17 532.24,205.95 530.19,205.66 528.2,205.31 526.19,204.88 524.08,204.39 521.78,203.83 519.21,203.2 516.3,202.5 513.04,201.7 509.5,200.76 505.75,199.73 501.83,198.62 497.77,197.46 493.65,196.27 489.49,195.08 485.34,193.93 481.27,192.82 477.3,191.8 473.49,190.78 469.83,189.7 466.24,188.59 462.67,187.49 459.06,186.42 455.36,185.44 451.5,184.57 447.43,183.85 443.08,183.32 438.4,183 433.27,183 427.67,183.33 421.73,183.91 415.56,184.66 409.27,185.49 402.97,186.31 396.78,187.05 390.81,187.62 385.18,187.93 380,187.9 375.23,187.54 370.75,186.95 366.5,186.17 362.45,185.22 358.56,184.16 354.79,183.03 351.08,181.85 347.41,180.68 343.73,179.55 340,178.5 336.27,177.49 332.63,176.47 329.04,175.43 325.51,174.38 322.01,173.32 318.54,172.25 315.08,171.18 311.61,170.12 308.12,169.05 304.6,168" fill="url(#gRib)"/>
<polygon points="313,119.5 315.01,120.05 317.04,120.59 319.08,121.13 321.12,121.68 323.15,122.22 325.17,122.76 327.18,123.31 329.15,123.87 331.1,124.43 333,125 334.86,125.58 336.68,126.17 338.46,126.76 340.22,127.36 341.96,127.97 343.69,128.58 345.41,129.18 347.13,129.79 348.86,130.4 350.6,131 352.37,131.62 354.18,132.26 356,132.92 357.83,133.58 359.65,134.24 361.44,134.87 363.18,135.48 364.87,136.04 366.48,136.55 368,137 369.38,137.39 370.63,137.74 371.76,138.05 372.83,138.33 373.87,138.56 374.92,138.76 376.02,138.92 377.21,139.05 378.52,139.14 380,139.2 381.56,139.21 383.11,139.17 384.69,139.09 386.33,138.97 388.07,138.82 389.94,138.64 391.99,138.44 394.24,138.23 396.73,138.02 399.5,137.8 402.65,137.55 406.19,137.23 410.05,136.87 414.13,136.49 418.34,136.11 422.61,135.75 426.83,135.43 430.93,135.16 434.82,134.98 438.4,134.9 441.71,134.9 444.86,134.94 447.87,135.03 450.78,135.18 453.61,135.38 456.39,135.63 459.15,135.95 461.92,136.33 464.72,136.78 467.6,137.3 470.56,137.92 473.6,138.65 476.67,139.48 479.75,140.37 482.81,141.31 485.82,142.28 488.75,143.26 491.58,144.22 494.27,145.14 496.8,146 499.14,146.84 501.32,147.7 503.37,148.56 505.3,149.42 507.16,150.26 508.97,151.08 510.76,151.85 512.56,152.57 514.4,153.22 516.3,153.8 518.2,154.31 520.03,154.76 521.82,155.15 523.6,155.5 525.39,155.8 527.24,156.06 529.16,156.27 531.19,156.45 533.36,156.59 535.7,156.7 538.22,156.76 540.91,156.77 543.74,156.73 546.67,156.65 549.69,156.54 552.75,156.4 555.83,156.23 558.9,156.06 561.94,155.88 564.9,155.7 567.86,155.5 570.9,155.25 573.97,154.96 577.05,154.66 580.11,154.35 583.12,154.05 586.05,153.77 588.88,153.53 591.57,153.33 594.1,153.2 596.4,153.11 598.47,153.02 600.36,152.96 602.13,152.92 603.85,152.92 605.57,152.96 607.34,153.07 609.23,153.23 611.3,153.47 613.6,153.8 616.13,154.22 618.82,154.72 621.65,155.29 624.58,155.93 627.59,156.63 630.65,157.37 633.73,158.15 636.8,158.96 639.84,159.77 642.8,160.6 645.73,161.48 648.66,162.45 651.6,163.49 654.54,164.56 657.47,165.64 660.41,166.71 663.33,167.74 666.24,168.7 669.13,169.56 672,170.3 674.84,170.93 677.66,171.48 680.45,171.96 683.23,172.38 686,172.74 688.77,173.05 691.55,173.33 694.34,173.57 697.16,173.79 700,174 702.83,174.18 705.61,174.34 708.37,174.45 711.13,174.54 713.92,174.59 716.76,174.6 719.69,174.58 722.72,174.52 725.88,174.43 729.2,174.3 732.74,174.08 736.51,173.75 740.46,173.34 744.53,172.87 748.65,172.4 752.77,171.95 756.84,171.54 760.79,171.23 764.56,171.04 768.1,171 771.43,171.1 774.62,171.29 777.7,171.56 780.67,171.91 783.55,172.34 786.37,172.83 789.13,173.37 791.86,173.97 794.58,174.62 797.3,175.3 799.95,176.05 802.48,176.88 804.93,177.78 807.33,178.74 809.71,179.75 812.11,180.79 814.56,181.85 817.1,182.91 819.77,183.97 822.6,185 825.61,186.09 828.78,187.29 832.08,188.56 835.47,189.86 838.91,191.14 842.37,192.35 845.81,193.46 849.2,194.41 852.51,195.18 855.7,195.7 858.78,195.97 861.79,196.01 864.75,195.86 867.66,195.57 870.54,195.16 873.41,194.68 876.26,194.17 879.12,193.66 882,193.19 884.9,192.8 887.86,192.43 890.9,192.02 893.97,191.58 897.05,191.12 900.11,190.67 903.12,190.23 906.05,189.81 908.88,189.45 911.57,189.14 914.1,188.9 916.4,188.71 918.47,188.54 920.36,188.4 922.13,188.29 923.85,188.23 925.57,188.22 927.34,188.28 929.23,188.4 931.3,188.61 933.6,188.9 936.17,189.31 938.98,189.84 941.96,190.47 945.05,191.17 948.21,191.93 951.36,192.72 954.45,193.51 957.43,194.29 960.23,195.03 962.8,195.7 965.14,196.32 967.33,196.92 969.39,197.5 971.34,198.08 973.21,198.64 975.03,199.21 976.81,199.78 978.58,200.37 980.37,200.97 982.2,201.6 984.04,202.27 985.84,203 987.6,203.76 989.35,204.54 991.09,205.31 992.83,206.07 994.59,206.78 996.36,207.44 998.16,208.02 1000,208.5 1001.79,208.89 1003.48,209.22 1005.11,209.48 1006.75,209.68 1008.43,209.84 1010.22,209.96 1012.17,210.05 1014.33,210.12 1016.76,210.16 1019.5,210.2 1022.65,210.22 1026.19,210.19 1030.05,210.14 1034.13,210.06 1038.34,209.95 1042.61,209.82 1046.83,209.68 1050.93,209.53 1054.82,209.36 1058.4,209.2 1061.71,208.99 1064.86,208.72 1067.87,208.4 1070.78,208.06 1073.61,207.72 1076.39,207.41 1079.15,207.15 1081.92,206.96 1084.72,206.87 1087.6,206.9 1090.56,207.04 1093.6,207.28 1096.67,207.6 1099.75,207.98 1102.81,208.43 1105.82,208.91 1108.75,209.44 1111.58,209.98 1114.27,210.54 1116.8,211.1 1119.06,211.66 1121.01,212.23 1122.75,212.82 1124.37,213.44 1125.94,214.09 1127.57,214.77 1129.33,215.5 1131.31,216.28 1133.61,217.11 1136.3,218 1139.45,219.03 1142.99,220.24 1146.85,221.56 1150.93,222.95 1155.14,224.35 1159.41,225.71 1163.63,226.96 1167.73,228.07 1171.62,228.97 1175.2,229.6 1178.51,229.96 1181.66,230.09 1184.67,230.03 1187.58,229.82 1190.41,229.5 1193.19,229.12 1195.95,228.7 1198.72,228.3 1201.52,227.95 1204.4,227.7 1207.36,227.5 1210.4,227.27 1213.47,227.04 1216.55,226.81 1219.61,226.58 1222.63,226.36 1225.56,226.16 1228.39,225.97 1231.08,225.82 1233.6,225.7 1235.89,225.59 1237.95,225.48 1239.83,225.37 1241.6,225.27 1243.3,225.21 1245,225.18 1246.77,225.2 1248.65,225.29 1250.71,225.45 1253,225.7 1255.57,226.05 1258.37,226.5 1261.35,227.04 1264.44,227.64 1267.59,228.29 1270.75,228.96 1273.84,229.65 1276.82,230.33 1279.63,230.99 1282.2,231.6 1284.49,232.16 1286.53,232.68 1288.39,233.17 1290.13,233.66 1291.81,234.16 1293.51,234.69 1295.28,235.26 1297.19,235.89 1299.31,236.6 1301.7,237.4 1304.39,238.37 1307.32,239.52 1310.44,240.8 1313.7,242.16 1317.04,243.54 1320.41,244.87 1323.75,246.11 1327.02,247.2 1330.15,248.08 1333.1,248.7 1335.86,249.05 1338.49,249.18 1341.02,249.12 1343.47,248.93 1345.89,248.62 1348.29,248.25 1350.72,247.83 1353.19,247.41 1355.74,247.02 1358.4,246.7 1361.16,246.4 1363.99,246.05 1366.87,245.66 1369.8,245.26 1372.76,244.85 1375.73,244.45 1378.72,244.07 1381.7,243.73 1384.66,243.43 1387.6,243.2 1390.52,243 1393.44,242.81 1396.36,242.63 1399.28,242.47 1402.2,242.36 1405.12,242.29 1408.04,242.29 1410.96,242.37 1413.88,242.53 1416.8,242.8 1419.76,243.19 1422.8,243.7 1425.87,244.31 1428.95,245 1432.01,245.75 1435.02,246.53 1437.95,247.33 1440.78,248.12 1443.47,248.89 1446,249.6 1448.3,250.27 1450.37,250.93 1452.26,251.58 1454.04,252.22 1455.76,252.88 1457.47,253.54 1459.25,254.21 1461.14,254.91 1463.2,255.64 1465.5,256.4 1468.02,257.25 1470.7,258.2 1473.52,259.23 1476.44,260.29 1479.44,261.34 1482.49,262.35 1485.56,263.28 1488.62,264.09 1491.64,264.74 1494.6,265.2 1497.53,265.44 1500.5,265.51 1503.48,265.42 1506.46,265.22 1509.44,264.92 1512.4,264.58 1515.32,264.21 1518.21,263.86 1521.04,263.54 1523.8,263.3 1526.49,263.1 1529.11,262.88 1531.68,262.66 1534.2,262.44 1536.69,262.22 1539.17,262 1541.63,261.8 1544.1,261.61 1546.59,261.44 1549.1,261.3 1551.63,261.18 1554.16,261.09 1556.69,261.02 1559.22,260.96 1561.75,260.91 1564.28,260.87 1566.81,260.84 1569.34,260.8 1571.87,260.75 1574.4,260.7 1570.6,307 1566.86,307.19 1563.08,307.37 1559.25,307.54 1555.43,307.71 1551.61,307.88 1547.84,308.06 1544.13,308.26 1540.5,308.48 1536.98,308.72 1533.6,309 1530.36,309.35 1527.26,309.8 1524.27,310.31 1521.36,310.85 1518.51,311.38 1515.71,311.88 1512.91,312.32 1510.12,312.65 1507.28,312.86 1504.4,312.9 1501.52,312.8 1498.72,312.59 1495.95,312.29 1493.19,311.9 1490.41,311.42 1487.58,310.86 1484.67,310.24 1481.66,309.55 1478.51,308.8 1475.2,308 1471.69,307.09 1467.98,306.03 1464.12,304.86 1460.16,303.62 1456.12,302.32 1452.05,301.02 1448,299.75 1443.99,298.53 1440.08,297.4 1436.3,296.4 1432.63,295.48 1429,294.58 1425.43,293.7 1421.89,292.87 1418.39,292.1 1414.91,291.39 1411.46,290.77 1408.03,290.24 1404.61,289.81 1401.2,289.5 1397.79,289.33 1394.39,289.3 1391,289.39 1387.63,289.57 1384.28,289.82 1380.96,290.14 1377.68,290.48 1374.44,290.84 1371.24,291.18 1368.1,291.5 1365.07,291.87 1362.17,292.35 1359.36,292.9 1356.6,293.48 1353.86,294.06 1351.09,294.59 1348.25,295.03 1345.3,295.34 1342.2,295.48 1338.9,295.4 1335.31,295.1 1331.4,294.6 1327.28,293.94 1323.03,293.15 1318.74,292.26 1314.51,291.32 1310.42,290.35 1306.58,289.38 1303.08,288.45 1300,287.6 1297.46,286.79 1295.43,285.96 1293.77,285.13 1292.37,284.29 1291.1,283.45 1289.83,282.61 1288.43,281.77 1286.77,280.94 1284.74,280.11 1282.2,279.3 1279.12,278.46 1275.62,277.55 1271.78,276.62 1267.69,275.68 1263.46,274.76 1259.17,273.9 1254.92,273.11 1250.8,272.43 1246.89,271.88 1243.3,271.5 1240.01,271.28 1236.93,271.21 1234.01,271.26 1231.2,271.42 1228.46,271.66 1225.73,271.96 1222.98,272.3 1220.16,272.67 1217.21,273.04 1214.1,273.4 1210.78,273.8 1207.29,274.31 1203.66,274.9 1199.96,275.52 1196.24,276.15 1192.54,276.76 1188.93,277.31 1185.45,277.77 1182.16,278.11 1179.1,278.3 1176.36,278.37 1173.93,278.39 1171.72,278.34 1169.65,278.22 1167.64,278.01 1165.62,277.7 1163.49,277.3 1161.19,276.79 1158.62,276.16 1155.7,275.4 1152.44,274.44 1148.91,273.26 1145.17,271.9 1141.26,270.41 1137.22,268.85 1133.1,267.27 1128.96,265.72 1124.83,264.26 1120.76,262.94 1116.8,261.8 1112.91,260.79 1109.02,259.83 1105.13,258.93 1101.24,258.08 1097.36,257.31 1093.47,256.63 1089.58,256.03 1085.69,255.54 1081.79,255.16 1077.9,254.9 1073.91,254.81 1069.78,254.89 1065.57,255.12 1061.34,255.45 1057.15,255.87 1053.06,256.33 1049.13,256.79 1045.42,257.23 1041.99,257.61 1038.9,257.9 1036.2,258.13 1033.85,258.36 1031.79,258.58 1029.95,258.79 1028.26,258.98 1026.67,259.15 1025.12,259.29 1023.53,259.4 1021.84,259.47 1020,259.5 1018.12,259.54 1016.35,259.64 1014.62,259.75 1012.9,259.84 1011.14,259.88 1009.29,259.83 1007.3,259.65 1005.12,259.31 1002.7,258.77 1000,258 996.98,256.91 993.69,255.47 990.16,253.79 986.44,251.92 982.59,249.96 978.64,247.98 974.63,246.07 970.63,244.3 966.67,242.75 962.8,241.5 958.93,240.51 954.96,239.67 950.92,238.96 946.86,238.37 942.8,237.89 938.78,237.51 934.84,237.2 931,236.95 927.31,236.76 923.8,236.6 920.5,236.52 917.39,236.54 914.44,236.66 911.6,236.86 908.82,237.11 906.08,237.4 903.33,237.72 900.53,238.03 897.63,238.33 894.6,238.6 891.42,238.88 888.12,239.22 884.74,239.59 881.3,239.97 877.86,240.36 874.43,240.71 871.05,241.03 867.77,241.28 864.61,241.44 861.6,241.5 858.82,241.48 856.27,241.43 853.88,241.33 851.58,241.18 849.32,240.96 847.04,240.67 844.65,240.3 842.11,239.84 839.35,239.27 836.3,238.6 832.95,237.77 829.38,236.76 825.6,235.61 821.68,234.37 817.65,233.06 813.55,231.72 809.42,230.4 805.31,229.13 801.26,227.95 797.3,226.9 793.49,225.9 789.83,224.87 786.24,223.84 782.67,222.84 779.06,221.9 775.36,221.05 771.5,220.31 767.43,219.72 763.08,219.31 758.4,219.1 753.17,219.18 747.33,219.56 741.05,220.17 734.52,220.95 727.91,221.81 721.41,222.7 715.19,223.53 709.43,224.23 704.3,224.75 700,225 696.64,225.04 694.1,224.96 692.21,224.77 690.78,224.48 689.63,224.1 688.58,223.63 687.44,223.08 686.04,222.45 684.18,221.76 681.7,221 678.64,220.12 675.24,219.09 671.55,217.93 667.63,216.69 663.54,215.39 659.36,214.07 655.13,212.77 650.92,211.51 646.79,210.35 642.8,209.3 638.86,208.32 634.85,207.34 630.8,206.37 626.74,205.43 622.69,204.55 618.7,203.73 614.78,203 610.97,202.38 607.3,201.87 603.8,201.5 600.51,201.29 597.43,201.24 594.5,201.32 591.69,201.51 588.95,201.78 586.23,202.1 583.48,202.44 580.65,202.79 577.71,203.12 574.6,203.4 571.28,203.69 567.78,204.04 564.16,204.44 560.46,204.85 556.73,205.26 553.04,205.64 549.42,205.97 545.94,206.22 542.65,206.37 539.6,206.4 536.87,206.32 534.44,206.17 532.24,205.95 530.19,205.66 528.2,205.31 526.19,204.88 524.08,204.39 521.78,203.83 519.21,203.2 516.3,202.5 513.04,201.7 509.5,200.76 505.75,199.73 501.83,198.62 497.77,197.46 493.65,196.27 489.49,195.08 485.34,193.93 481.27,192.82 477.3,191.8 473.49,190.78 469.83,189.7 466.24,188.59 462.67,187.49 459.06,186.42 455.36,185.44 451.5,184.57 447.43,183.85 443.08,183.32 438.4,183 433.27,183 427.67,183.33 421.73,183.91 415.56,184.66 409.27,185.49 402.97,186.31 396.78,187.05 390.81,187.62 385.18,187.93 380,187.9 375.23,187.54 370.75,186.95 366.5,186.17 362.45,185.22 358.56,184.16 354.79,183.03 351.08,181.85 347.41,180.68 343.73,179.55 340,178.5 336.27,177.49 332.63,176.47 329.04,175.43 325.51,174.38 322.01,173.32 318.54,172.25 315.08,171.18 311.61,170.12 308.12,169.05 304.6,168" fill="url(#gRibL)"/>
<g font-size="28">
<text transform="translate(839,153) rotate(5.4) skewX(-2.5)">Domain (Δ<tspan font-size="18" dy="-11" font-style="italic">1</tspan><tspan font-size="18" dx="-9" dy="21">SC</tspan><tspan dy="-10">)</tspan></text>
<text transform="translate(714.5,262) rotate(5.4) skewX(-2.5)">Domain Wall (Δ<tspan font-size="18" dy="-11">DW</tspan><tspan font-size="18" dx="-29" dy="21">SC</tspan><tspan dy="-10" dx="5">+Δ</tspan><tspan font-size="18.5" dy="9" dx="1">PDW</tspan><tspan dy="-9">)</tspan></text>
<text transform="translate(771.3,344.7) rotate(5.4) skewX(-2.5)">Domain (Δ<tspan font-size="18" dy="-11">2</tspan><tspan font-size="18" dx="-10" dy="21">SC</tspan><tspan dy="-10">)</tspan></text>
</g>
<polygon points="462.7,125.4 482.41,137.76 483.21,130.8 598.09,144.16 597.29,151.11 619.3,143.6 599.59,131.24 598.79,138.2 483.91,124.84 484.71,117.89" fill="#1f6dd8"/>
<text x="489" y="110.2" font-size="28"><tspan font-style="italic">λ</tspan> = 2π/<tspan font-style="italic">Q</tspan></text>
<polyline points="220.7,305 220.7,384.8 312,395.6" fill="none" stroke="#000" stroke-width="3.6"/>
<polygon points="213.7,309.4 220.7,288.1 227.7,309.4" fill="#000"/>
<polygon points="309.2,387 330.8,396.1 307.6,400.8" fill="#000"/>
<text x="235" y="297" font-size="27">z</text>
<text x="321.2" y="423.5" font-size="26">x</text>
<g transform="translate(0,0)">
<polyline points="226.5,736.37 230.07,743.38 233.63,750.36 237.2,757.32 240.76,764.24 244.33,771.14 247.9,778.01 251.46,784.85 255.03,791.66 258.59,798.43 262.16,805.17 265.73,811.88 269.29,818.55 272.86,825.18 276.42,831.78 279.99,838.34 283.56,844.86 287.12,851.34 290.69,857.78 294.25,864.17 297.82,870.52 301.39,876.82 304.95,883.08 308.52,889.29 312.08,895.45 315.65,901.55 319.22,907.61 322.78,913.61 326.35,919.55 329.92,925.44 333.48,931.26 337.05,937.03 340.61,942.73 344.18,948.36 347.75,953.93 351.31,959.43 354.88,964.86 358.44,970.22 362.01,975.5 365.58,980.71 369.14,985.83 372.71,990.87 376.27,995.83 379.84,1000.7 383.41,1005.48 386.97,1010.17 390.54,1014.77 394.1,1019.27 397.67,1023.67 401.24,1027.97 404.8,1032.16 408.37,1036.24 411.93,1040.22 415.5,1044.08 419.07,1047.83 422.63,1051.45 426.2,1054.96 429.76,1058.34 433.33,1061.6 436.9,1064.72 440.46,1067.72 444.03,1070.58 447.59,1073.3 451.16,1075.88 454.73,1078.32 458.29,1080.61 461.86,1082.76 465.42,1084.76 468.99,1086.61 472.56,1088.3 476.12,1089.84 479.69,1091.22 483.25,1092.45 486.82,1093.51 490.39,1094.42 493.95,1095.16 497.52,1095.74 501.08,1096.16 504.65,1096.41 508.22,1096.5 511.78,1096.43 515.35,1096.19 518.92,1095.78 522.48,1095.22 526.05,1094.49 529.61,1093.6 533.18,1092.55 536.75,1091.34 540.31,1089.97 543.88,1088.45 547.44,1086.77 551.01,1084.93 554.58,1082.95 558.14,1080.82 561.71,1078.53 565.27,1076.11 568.84,1073.54 572.41,1070.83 575.97,1067.98 579.54,1065 583.1,1061.89 586.67,1058.65 590.24,1055.27 593.8,1051.78 597.37,1048.16 600.93,1044.43 604.5,1040.58 608.07,1036.61 611.63,1032.54 615.2,1028.35 618.76,1024.07 622.33,1019.68 625.9,1015.19 629.46,1010.6 633.03,1005.92 636.59,1001.14 640.16,996.28 643.73,991.33 647.29,986.3 650.86,981.18 654.42,975.98 657.99,970.71 661.56,965.36 665.12,959.93 668.69,954.44 672.25,948.88 675.82,943.25 679.39,937.55 682.95,931.79 686.52,925.97 690.08,920.09 693.65,914.15 697.22,908.16 700.78,902.11 704.35,896.01 707.92,889.85 711.48,883.65 715.05,877.4 718.61,871.1 722.18,864.75 725.75,858.36 729.31,851.93 732.88,845.45 736.44,838.94 740.01,832.38 743.58,825.79 747.14,819.16 750.71,812.49 754.27,805.79 757.84,799.05 761.41,792.28 764.97,785.47 768.54,778.64 772.1,771.77 775.67,764.87 779.24,757.95 782.8,751 786.37,744.02 789.93,737.01 793.5,729.97" fill="none" stroke="#1a76c9" stroke-width="6"/>
<polyline points="137.7,736.64 141.27,743.66 144.84,750.65 148.41,757.62 151.98,764.55 155.56,771.46 159.13,778.34 162.7,785.18 166.27,792 169.84,798.78 173.41,805.53 176.98,812.24 180.55,818.92 184.12,825.56 187.69,832.17 191.27,838.74 194.84,845.26 198.41,851.75 201.98,858.19 205.55,864.59 209.12,870.95 212.69,877.26 216.26,883.52 219.83,889.73 223.41,895.89 226.98,902.01 230.55,908.06 234.12,914.07 237.69,920.02 241.26,925.9 244.83,931.73 248.4,937.5 251.97,943.21 255.55,948.85 259.12,954.42 262.69,959.92 266.26,965.35 269.83,970.71 273.4,975.99 276.97,981.19 280.54,986.32 284.11,991.36 287.68,996.31 291.26,1001.18 294.83,1005.96 298.4,1010.65 301.97,1015.24 305.54,1019.74 309.11,1024.13 312.68,1028.43 316.25,1032.61 319.82,1036.69 323.4,1040.66 326.97,1044.51 330.54,1048.25 334.11,1051.87 337.68,1055.37 341.25,1058.74 344.82,1061.98 348.39,1065.1 351.96,1068.08 355.54,1070.93 359.11,1073.63 362.68,1076.2 366.25,1078.62 369.82,1080.9 373.39,1083.03 376.96,1085.02 380.53,1086.84 384.1,1088.52 387.67,1090.04 391.25,1091.4 394.82,1092.61 398.39,1093.65 401.96,1094.53 405.53,1095.25 409.1,1095.81 412.67,1096.2 416.24,1096.43 419.81,1096.5 423.39,1096.4 426.96,1096.14 430.53,1095.71 434.1,1095.12 437.67,1094.36 441.24,1093.45 444.81,1092.37 448.38,1091.13 451.95,1089.73 455.53,1088.18 459.1,1086.47 462.67,1084.61 466.24,1082.6 469.81,1080.44 473.38,1078.13 476.95,1075.67 480.52,1073.08 484.09,1070.34 487.66,1067.47 491.24,1064.46 494.81,1061.31 498.38,1058.04 501.95,1054.64 505.52,1051.12 509.09,1047.48 512.66,1043.72 516.23,1039.84 519.8,1035.85 523.38,1031.74 526.95,1027.53 530.52,1023.22 534.09,1018.8 537.66,1014.29 541.23,1009.68 544.8,1004.97 548.37,1000.17 551.94,995.28 555.52,990.31 559.09,985.25 562.66,980.11 566.23,974.89 569.8,969.59 573.37,964.22 576.94,958.77 580.51,953.25 584.08,947.67 587.65,942.02 591.23,936.3 594.8,930.52 598.37,924.67 601.94,918.77 605.51,912.81 609.08,906.8 612.65,900.73 616.22,894.61 619.79,888.43 623.37,882.21 626.94,875.94 630.51,869.62 634.08,863.25 637.65,856.84 641.22,850.39 644.79,843.9 648.36,837.36 651.93,830.79 655.51,824.17 659.08,817.52 662.65,810.84 666.22,804.12 669.79,797.36 673.36,790.57 676.93,783.75 680.5,776.9 684.07,770.01 687.64,763.1 691.22,756.16 694.79,749.19 698.36,742.19 701.93,735.17 705.5,728.11" fill="none" stroke="#f20a0a" stroke-width="6"/>
<line x1="121.9" y1="942.2" x2="830" y2="942.2" stroke="#000" stroke-width="7.6"/>
<polygon points="826.5,930.3 851.5,942.2 826.5,954" fill="#000"/>
<line x1="464.3" y1="1146.5" x2="464.3" y2="663" stroke="#000" stroke-width="8"/>
<polygon points="452.2,666.5 464.3,642.5 476.4,666.5" fill="#000"/>
<circle cx="250.3" cy="943.3" r="17.5" fill="url(#gRed)"/>
<circle cx="585.5" cy="943.3" r="17.5" fill="url(#gRed)"/>
<circle cx="340.0" cy="942.2" r="17.6" fill="url(#gBlue)"/>
<circle cx="676.3" cy="942.2" r="17.6" fill="url(#gBlue)"/>
<rect x="487" y="995" width="104" height="46" fill="#fff" fill-opacity="0.6"/>
<polygon points="248.8,944.07 251.71,939.63 254.55,936.13 257.38,933.12 260.21,930.47 263.03,928.07 265.86,925.89 268.69,923.87 271.52,921.99 274.34,920.24 277.17,918.6 280,917.05 282.82,915.58 285.65,914.19 288.48,912.87 291.3,911.62 294.13,910.42 296.96,909.28 299.78,908.19 302.61,907.15 305.43,906.15 308.26,905.2 311.09,904.29 313.91,903.41 316.74,902.57 319.56,901.77 322.39,901 325.21,900.27 328.04,899.56 330.86,898.89 333.69,898.24 336.51,897.62 339.34,897.03 342.16,896.47 344.99,895.93 347.81,895.42 350.64,894.93 353.46,894.46 356.28,894.02 359.11,893.61 361.93,893.21 364.76,892.84 367.58,892.49 370.41,892.16 373.23,891.85 376.05,891.56 378.88,891.29 381.7,891.04 384.52,890.82 387.35,890.61 390.17,890.42 393,890.26 395.82,890.11 398.64,889.98 401.47,889.87 404.29,889.78 407.11,889.7 409.94,889.65 412.76,889.62 415.58,889.6 418.41,889.6 421.23,889.63 424.05,889.67 426.88,889.73 429.7,889.81 432.53,889.9 435.35,890.02 438.17,890.16 441,890.31 443.82,890.49 446.64,890.68 449.47,890.9 452.29,891.13 455.11,891.38 457.94,891.66 460.76,891.95 463.59,892.27 466.41,892.61 469.23,892.97 472.06,893.35 474.88,893.75 477.71,894.18 480.53,894.62 483.36,895.1 486.18,895.59 489,896.12 491.83,896.66 494.65,897.24 497.48,897.84 500.3,898.46 503.13,899.12 505.95,899.8 508.78,900.52 511.6,901.27 514.43,902.05 517.25,902.86 520.08,903.71 522.91,904.6 525.73,905.53 528.56,906.5 531.38,907.51 534.21,908.57 537.04,909.67 539.86,910.83 542.69,912.05 545.52,913.33 548.34,914.67 551.17,916.09 554,917.58 556.82,919.16 559.65,920.84 562.48,922.64 565.3,924.56 568.13,926.63 570.96,928.89 573.79,931.37 576.62,934.13 579.45,937.29 582.28,941.03 585.19,945.95 587.81,944.47 585.02,939.3 582.16,935.16 579.29,931.68 576.42,928.64 573.55,925.91 570.68,923.43 567.81,921.15 564.94,919.04 562.07,917.06 559.2,915.21 556.33,913.46 553.46,911.82 550.59,910.26 547.72,908.77 544.85,907.36 541.98,906.02 539.11,904.73 536.24,903.51 533.36,902.34 530.49,901.22 527.62,900.14 524.75,899.11 521.88,898.13 519.01,897.19 516.13,896.28 513.26,895.41 510.39,894.58 507.52,893.79 504.64,893.02 501.77,892.29 498.9,891.6 496.03,890.93 493.15,890.29 490.28,889.68 487.41,889.1 484.54,888.54 481.66,888.02 478.79,887.51 475.92,887.04 473.04,886.59 470.17,886.16 467.3,885.76 464.42,885.39 461.55,885.03 458.68,884.7 455.8,884.4 452.93,884.11 450.05,883.85 447.18,883.61 444.31,883.39 441.43,883.2 438.56,883.02 435.68,882.87 432.81,882.74 429.94,882.63 427.06,882.54 424.19,882.48 421.32,882.43 418.44,882.4 415.57,882.4 412.69,882.42 409.82,882.46 406.95,882.52 404.07,882.6 401.2,882.7 398.32,882.82 395.45,882.97 392.58,883.13 389.7,883.32 386.83,883.53 383.95,883.76 381.08,884.02 378.21,884.29 375.33,884.59 372.46,884.91 369.59,885.26 366.71,885.63 363.84,886.02 360.97,886.44 358.09,886.88 355.22,887.35 352.35,887.84 349.47,888.36 346.6,888.9 343.73,889.47 340.85,890.07 337.98,890.7 335.11,891.36 332.24,892.05 329.36,892.76 326.49,893.52 323.62,894.3 320.75,895.12 317.87,895.97 315,896.86 312.13,897.79 309.26,898.76 306.39,899.78 303.52,900.83 300.64,901.94 297.77,903.09 294.9,904.3 292.03,905.56 289.16,906.88 286.29,908.27 283.42,909.73 280.55,911.26 277.68,912.88 274.8,914.58 271.93,916.4 269.06,918.33 266.19,920.39 263.32,922.61 260.45,925.02 257.58,927.65 254.72,930.57 251.85,933.88 248.99,937.75 246.2,942.44" fill="#000"/>
<polygon points="341.93,949.33 344.64,952.26 347.41,954.89 350.19,957.27 352.97,959.46 355.75,961.48 358.53,963.37 361.32,965.13 364.11,966.8 366.89,968.37 369.68,969.86 372.47,971.28 375.26,972.63 378.05,973.91 380.84,975.14 383.63,976.31 386.41,977.43 389.2,978.51 392,979.54 394.79,980.52 397.58,981.47 400.37,982.38 403.16,983.26 405.95,984.09 408.74,984.9 411.53,985.67 414.32,986.41 417.12,987.13 419.91,987.81 422.7,988.46 425.49,989.09 428.28,989.69 431.08,990.27 433.87,990.82 436.66,991.34 439.46,991.84 442.25,992.32 445.04,992.78 447.83,993.21 450.63,993.62 453.42,994.01 456.21,994.38 459.01,994.72 461.8,995.05 464.6,995.35 467.39,995.64 470.18,995.9 472.98,996.15 475.77,996.37 478.56,996.58 481.36,996.77 484.15,996.93 486.95,997.08 489.74,997.21 492.53,997.32 495.33,997.42 498.12,997.49 500.92,997.54 503.71,997.58 506.5,997.6 509.3,997.6 512.09,997.58 514.89,997.54 517.68,997.48 520.47,997.41 523.27,997.32 526.06,997.2 528.86,997.07 531.65,996.92 534.44,996.75 537.24,996.57 540.03,996.36 542.83,996.13 545.62,995.89 548.41,995.62 551.21,995.33 554,995.03 556.79,994.7 559.59,994.35 562.38,993.98 565.17,993.59 567.97,993.18 570.76,992.75 573.55,992.29 576.35,991.81 579.14,991.31 581.93,990.78 584.72,990.23 587.52,989.65 590.31,989.05 593.1,988.42 595.89,987.76 598.69,987.07 601.48,986.36 604.27,985.62 607.06,984.84 609.85,984.03 612.64,983.19 615.43,982.32 618.23,981.41 621.02,980.46 623.81,979.46 626.6,978.43 629.39,977.35 632.18,976.23 634.97,975.05 637.75,973.82 640.54,972.53 643.33,971.18 646.12,969.76 648.91,968.26 651.69,966.68 654.48,965.01 657.27,963.23 660.05,961.34 662.83,959.31 665.62,957.11 668.39,954.71 671.16,952.06 673.87,949.11 671.73,947 668.89,949.7 666.12,952.08 663.36,954.24 660.59,956.22 657.83,958.05 655.08,959.75 652.32,961.35 649.56,962.85 646.81,964.27 644.05,965.61 641.3,966.89 638.54,968.1 635.79,969.25 633.03,970.36 630.28,971.41 627.53,972.42 624.77,973.38 622.02,974.3 619.27,975.19 616.52,976.04 613.77,976.85 611.01,977.63 608.26,978.38 605.51,979.1 602.76,979.79 600.01,980.45 597.26,981.08 594.51,981.69 591.76,982.27 589.01,982.83 586.25,983.37 583.5,983.88 580.75,984.37 578,984.84 575.25,985.28 572.5,985.71 569.75,986.11 567,986.49 564.26,986.86 561.51,987.2 558.76,987.53 556.01,987.84 553.26,988.13 550.51,988.4 547.76,988.65 545.01,988.89 542.26,989.1 539.51,989.3 536.76,989.49 534.01,989.65 531.26,989.8 528.52,989.93 525.77,990.05 523.02,990.15 520.27,990.23 517.52,990.3 514.77,990.35 512.02,990.38 509.27,990.4 506.52,990.4 503.78,990.38 501.03,990.35 498.28,990.3 495.53,990.24 492.78,990.16 490.03,990.06 487.28,989.94 484.53,989.81 481.79,989.66 479.04,989.5 476.29,989.32 473.54,989.12 470.79,988.9 468.04,988.67 465.29,988.42 462.54,988.15 459.79,987.86 457.04,987.55 454.29,987.23 451.54,986.89 448.79,986.52 446.04,986.14 443.29,985.74 440.54,985.31 437.79,984.87 435.04,984.4 432.29,983.91 429.54,983.4 426.79,982.87 424.04,982.31 421.29,981.73 418.54,981.13 415.79,980.49 413.04,979.83 410.29,979.15 407.54,978.43 404.78,977.68 402.03,976.91 399.28,976.1 396.53,975.25 393.78,974.37 391.02,973.45 388.27,972.49 385.52,971.48 382.76,970.43 380.01,969.34 377.26,968.19 374.5,966.98 371.75,965.71 368.99,964.37 366.24,962.96 363.48,961.46 360.72,959.87 357.96,958.17 355.2,956.35 352.44,954.39 349.68,952.25 346.91,949.88 344.07,947.21" fill="#000"/>
<text x="481.5" y="640" font-size="27" font-style="italic" text-anchor="middle">ε</text>
<text x="220.5" y="979.5" font-size="26.5">-k</text>
<text x="688.5" y="979.5" font-size="26.5">k</text>
<text x="844" y="979.5" font-size="26.5">k<tspan font-size="19" font-style="italic" dy="7.5">x</tspan></text>
<text x="317" y="855.8" font-size="27" font-style="italic">c<tspan font-size="19" font-style="normal" dy="8">-k,<tspan font-family="'Noto Sans CJK JP', sans-serif" font-size="17.5" dx="-4.5">↓</tspan></tspan><tspan dy="-8" dx="-4">c</tspan><tspan font-size="19" font-style="normal" dy="8">k-Q,<tspan font-family="'Noto Sans CJK JP', sans-serif" font-size="17.5" dx="-4.5">↓</tspan></tspan></text>
<text x="490" y="1029.5" font-size="27" font-style="italic">c<tspan font-size="19" font-style="normal" dy="8">k,<tspan font-family="'Noto Sans CJK JP', sans-serif" font-size="17.5" dx="-4.5">↑</tspan></tspan><tspan dy="-8" dx="-4">c</tspan><tspan font-size="19" font-style="normal" dy="8">-k+Q,<tspan font-family="'Noto Sans CJK JP', sans-serif" font-size="17.5" dx="-4.5">↑</tspan></tspan></text>
</g>
<g transform="translate(953.6,0)">
<polyline points="226.5,736.37 230.07,743.38 233.63,750.36 237.2,757.32 240.76,764.24 244.33,771.14 247.9,778.01 251.46,784.85 255.03,791.66 258.59,798.43 262.16,805.17 265.73,811.88 269.29,818.55 272.86,825.18 276.42,831.78 279.99,838.34 283.56,844.86 287.12,851.34 290.69,857.78 294.25,864.17 297.82,870.52 301.39,876.82 304.95,883.08 308.52,889.29 312.08,895.45 315.65,901.55 319.22,907.61 322.78,913.61 326.35,919.55 329.92,925.44 333.48,931.26 337.05,937.03 340.61,942.73 344.18,948.36 347.75,953.93 351.31,959.43 354.88,964.86 358.44,970.22 362.01,975.5 365.58,980.71 369.14,985.83 372.71,990.87 376.27,995.83 379.84,1000.7 383.41,1005.48 386.97,1010.17 390.54,1014.77 394.1,1019.27 397.67,1023.67 401.24,1027.97 404.8,1032.16 408.37,1036.24 411.93,1040.22 415.5,1044.08 419.07,1047.83 422.63,1051.45 426.2,1054.96 429.76,1058.34 433.33,1061.6 436.9,1064.72 440.46,1067.72 444.03,1070.58 447.59,1073.3 451.16,1075.88 454.73,1078.32 458.29,1080.61 461.86,1082.76 465.42,1084.76 468.99,1086.61 472.56,1088.3 476.12,1089.84 479.69,1091.22 483.25,1092.45 486.82,1093.51 490.39,1094.42 493.95,1095.16 497.52,1095.74 501.08,1096.16 504.65,1096.41 508.22,1096.5 511.78,1096.43 515.35,1096.19 518.92,1095.78 522.48,1095.22 526.05,1094.49 529.61,1093.6 533.18,1092.55 536.75,1091.34 540.31,1089.97 543.88,1088.45 547.44,1086.77 551.01,1084.93 554.58,1082.95 558.14,1080.82 561.71,1078.53 565.27,1076.11 568.84,1073.54 572.41,1070.83 575.97,1067.98 579.54,1065 583.1,1061.89 586.67,1058.65 590.24,1055.27 593.8,1051.78 597.37,1048.16 600.93,1044.43 604.5,1040.58 608.07,1036.61 611.63,1032.54 615.2,1028.35 618.76,1024.07 622.33,1019.68 625.9,1015.19 629.46,1010.6 633.03,1005.92 636.59,1001.14 640.16,996.28 643.73,991.33 647.29,986.3 650.86,981.18 654.42,975.98 657.99,970.71 661.56,965.36 665.12,959.93 668.69,954.44 672.25,948.88 675.82,943.25 679.39,937.55 682.95,931.79 686.52,925.97 690.08,920.09 693.65,914.15 697.22,908.16 700.78,902.11 704.35,896.01 707.92,889.85 711.48,883.65 715.05,877.4 718.61,871.1 722.18,864.75 725.75,858.36 729.31,851.93 732.88,845.45 736.44,838.94 740.01,832.38 743.58,825.79 747.14,819.16 750.71,812.49 754.27,805.79 757.84,799.05 761.41,792.28 764.97,785.47 768.54,778.64 772.1,771.77 775.67,764.87 779.24,757.95 782.8,751 786.37,744.02 789.93,737.01 793.5,729.97" fill="none" stroke="#1a76c9" stroke-width="6"/>
<polyline points="137.7,736.64 141.27,743.66 144.84,750.65 148.41,757.62 151.98,764.55 155.56,771.46 159.13,778.34 162.7,785.18 166.27,792 169.84,798.78 173.41,805.53 176.98,812.24 180.55,818.92 184.12,825.56 187.69,832.17 191.27,838.74 194.84,845.26 198.41,851.75 201.98,858.19 205.55,864.59 209.12,870.95 212.69,877.26 216.26,883.52 219.83,889.73 223.41,895.89 226.98,902.01 230.55,908.06 234.12,914.07 237.69,920.02 241.26,925.9 244.83,931.73 248.4,937.5 251.97,943.21 255.55,948.85 259.12,954.42 262.69,959.92 266.26,965.35 269.83,970.71 273.4,975.99 276.97,981.19 280.54,986.32 284.11,991.36 287.68,996.31 291.26,1001.18 294.83,1005.96 298.4,1010.65 301.97,1015.24 305.54,1019.74 309.11,1024.13 312.68,1028.43 316.25,1032.61 319.82,1036.69 323.4,1040.66 326.97,1044.51 330.54,1048.25 334.11,1051.87 337.68,1055.37 341.25,1058.74 344.82,1061.98 348.39,1065.1 351.96,1068.08 355.54,1070.93 359.11,1073.63 362.68,1076.2 366.25,1078.62 369.82,1080.9 373.39,1083.03 376.96,1085.02 380.53,1086.84 384.1,1088.52 387.67,1090.04 391.25,1091.4 394.82,1092.61 398.39,1093.65 401.96,1094.53 405.53,1095.25 409.1,1095.81 412.67,1096.2 416.24,1096.43 419.81,1096.5 423.39,1096.4 426.96,1096.14 430.53,1095.71 434.1,1095.12 437.67,1094.36 441.24,1093.45 444.81,1092.37 448.38,1091.13 451.95,1089.73 455.53,1088.18 459.1,1086.47 462.67,1084.61 466.24,1082.6 469.81,1080.44 473.38,1078.13 476.95,1075.67 480.52,1073.08 484.09,1070.34 487.66,1067.47 491.24,1064.46 494.81,1061.31 498.38,1058.04 501.95,1054.64 505.52,1051.12 509.09,1047.48 512.66,1043.72 516.23,1039.84 519.8,1035.85 523.38,1031.74 526.95,1027.53 530.52,1023.22 534.09,1018.8 537.66,1014.29 541.23,1009.68 544.8,1004.97 548.37,1000.17 551.94,995.28 555.52,990.31 559.09,985.25 562.66,980.11 566.23,974.89 569.8,969.59 573.37,964.22 576.94,958.77 580.51,953.25 584.08,947.67 587.65,942.02 591.23,936.3 594.8,930.52 598.37,924.67 601.94,918.77 605.51,912.81 609.08,906.8 612.65,900.73 616.22,894.61 619.79,888.43 623.37,882.21 626.94,875.94 630.51,869.62 634.08,863.25 637.65,856.84 641.22,850.39 644.79,843.9 648.36,837.36 651.93,830.79 655.51,824.17 659.08,817.52 662.65,810.84 666.22,804.12 669.79,797.36 673.36,790.57 676.93,783.75 680.5,776.9 684.07,770.01 687.64,763.1 691.22,756.16 694.79,749.19 698.36,742.19 701.93,735.17 705.5,728.11" fill="none" stroke="#f20a0a" stroke-width="6"/>
<line x1="121.9" y1="942.2" x2="830" y2="942.2" stroke="#000" stroke-width="7.6"/>
<polygon points="826.5,930.3 851.5,942.2 826.5,954" fill="#000"/>
<line x1="464.3" y1="1146.5" x2="464.3" y2="663" stroke="#000" stroke-width="8"/>
<polygon points="452.2,666.5 464.3,642.5 476.4,666.5" fill="#000"/>
<circle cx="250.3" cy="943.3" r="17.5" fill="url(#gRed)"/>
<circle cx="585.5" cy="943.3" r="17.5" fill="url(#gRed)"/>
<circle cx="340.0" cy="942.2" r="17.6" fill="url(#gBlue)"/>
<circle cx="676.3" cy="942.2" r="17.6" fill="url(#gBlue)"/>
<rect x="485.9" y="996" width="117" height="45" fill="#fff" fill-opacity="0.6"/>
<polygon points="248.8,944.07 251.71,939.63 254.55,936.13 257.38,933.12 260.21,930.47 263.03,928.07 265.86,925.89 268.69,923.87 271.52,921.99 274.34,920.24 277.17,918.6 280,917.05 282.82,915.58 285.65,914.19 288.48,912.87 291.3,911.62 294.13,910.42 296.96,909.28 299.78,908.19 302.61,907.15 305.43,906.15 308.26,905.2 311.09,904.29 313.91,903.41 316.74,902.57 319.56,901.77 322.39,901 325.21,900.27 328.04,899.56 330.86,898.89 333.69,898.24 336.51,897.62 339.34,897.03 342.16,896.47 344.99,895.93 347.81,895.42 350.64,894.93 353.46,894.46 356.28,894.02 359.11,893.61 361.93,893.21 364.76,892.84 367.58,892.49 370.41,892.16 373.23,891.85 376.05,891.56 378.88,891.29 381.7,891.04 384.52,890.82 387.35,890.61 390.17,890.42 393,890.26 395.82,890.11 398.64,889.98 401.47,889.87 404.29,889.78 407.11,889.7 409.94,889.65 412.76,889.62 415.58,889.6 418.41,889.6 421.23,889.63 424.05,889.67 426.88,889.73 429.7,889.81 432.53,889.9 435.35,890.02 438.17,890.16 441,890.31 443.82,890.49 446.64,890.68 449.47,890.9 452.29,891.13 455.11,891.38 457.94,891.66 460.76,891.95 463.59,892.27 466.41,892.61 469.23,892.97 472.06,893.35 474.88,893.75 477.71,894.18 480.53,894.62 483.36,895.1 486.18,895.59 489,896.12 491.83,896.66 494.65,897.24 497.48,897.84 500.3,898.46 503.13,899.12 505.95,899.8 508.78,900.52 511.6,901.27 514.43,902.05 517.25,902.86 520.08,903.71 522.91,904.6 525.73,905.53 528.56,906.5 531.38,907.51 534.21,908.57 537.04,909.67 539.86,910.83 542.69,912.05 545.52,913.33 548.34,914.67 551.17,916.09 554,917.58 556.82,919.16 559.65,920.84 562.48,922.64 565.3,924.56 568.13,926.63 570.96,928.89 573.79,931.37 576.62,934.13 579.45,937.29 582.28,941.03 585.19,945.95 587.81,944.47 585.02,939.3 582.16,935.16 579.29,931.68 576.42,928.64 573.55,925.91 570.68,923.43 567.81,921.15 564.94,919.04 562.07,917.06 559.2,915.21 556.33,913.46 553.46,911.82 550.59,910.26 547.72,908.77 544.85,907.36 541.98,906.02 539.11,904.73 536.24,903.51 533.36,902.34 530.49,901.22 527.62,900.14 524.75,899.11 521.88,898.13 519.01,897.19 516.13,896.28 513.26,895.41 510.39,894.58 507.52,893.79 504.64,893.02 501.77,892.29 498.9,891.6 496.03,890.93 493.15,890.29 490.28,889.68 487.41,889.1 484.54,888.54 481.66,888.02 478.79,887.51 475.92,887.04 473.04,886.59 470.17,886.16 467.3,885.76 464.42,885.39 461.55,885.03 458.68,884.7 455.8,884.4 452.93,884.11 450.05,883.85 447.18,883.61 444.31,883.39 441.43,883.2 438.56,883.02 435.68,882.87 432.81,882.74 429.94,882.63 427.06,882.54 424.19,882.48 421.32,882.43 418.44,882.4 415.57,882.4 412.69,882.42 409.82,882.46 406.95,882.52 404.07,882.6 401.2,882.7 398.32,882.82 395.45,882.97 392.58,883.13 389.7,883.32 386.83,883.53 383.95,883.76 381.08,884.02 378.21,884.29 375.33,884.59 372.46,884.91 369.59,885.26 366.71,885.63 363.84,886.02 360.97,886.44 358.09,886.88 355.22,887.35 352.35,887.84 349.47,888.36 346.6,888.9 343.73,889.47 340.85,890.07 337.98,890.7 335.11,891.36 332.24,892.05 329.36,892.76 326.49,893.52 323.62,894.3 320.75,895.12 317.87,895.97 315,896.86 312.13,897.79 309.26,898.76 306.39,899.78 303.52,900.83 300.64,901.94 297.77,903.09 294.9,904.3 292.03,905.56 289.16,906.88 286.29,908.27 283.42,909.73 280.55,911.26 277.68,912.88 274.8,914.58 271.93,916.4 269.06,918.33 266.19,920.39 263.32,922.61 260.45,925.02 257.58,927.65 254.72,930.57 251.85,933.88 248.99,937.75 246.2,942.44" fill="#000"/>
<polygon points="341.93,949.33 344.64,952.26 347.41,954.89 350.19,957.27 352.97,959.46 355.75,961.48 358.53,963.37 361.32,965.13 364.11,966.8 366.89,968.37 369.68,969.86 372.47,971.28 375.26,972.63 378.05,973.91 380.84,975.14 383.63,976.31 386.41,977.43 389.2,978.51 392,979.54 394.79,980.52 397.58,981.47 400.37,982.38 403.16,983.26 405.95,984.09 408.74,984.9 411.53,985.67 414.32,986.41 417.12,987.13 419.91,987.81 422.7,988.46 425.49,989.09 428.28,989.69 431.08,990.27 433.87,990.82 436.66,991.34 439.46,991.84 442.25,992.32 445.04,992.78 447.83,993.21 450.63,993.62 453.42,994.01 456.21,994.38 459.01,994.72 461.8,995.05 464.6,995.35 467.39,995.64 470.18,995.9 472.98,996.15 475.77,996.37 478.56,996.58 481.36,996.77 484.15,996.93 486.95,997.08 489.74,997.21 492.53,997.32 495.33,997.42 498.12,997.49 500.92,997.54 503.71,997.58 506.5,997.6 509.3,997.6 512.09,997.58 514.89,997.54 517.68,997.48 520.47,997.41 523.27,997.32 526.06,997.2 528.86,997.07 531.65,996.92 534.44,996.75 537.24,996.57 540.03,996.36 542.83,996.13 545.62,995.89 548.41,995.62 551.21,995.33 554,995.03 556.79,994.7 559.59,994.35 562.38,993.98 565.17,993.59 567.97,993.18 570.76,992.75 573.55,992.29 576.35,991.81 579.14,991.31 581.93,990.78 584.72,990.23 587.52,989.65 590.31,989.05 593.1,988.42 595.89,987.76 598.69,987.07 601.48,986.36 604.27,985.62 607.06,984.84 609.85,984.03 612.64,983.19 615.43,982.32 618.23,981.41 621.02,980.46 623.81,979.46 626.6,978.43 629.39,977.35 632.18,976.23 634.97,975.05 637.75,973.82 640.54,972.53 643.33,971.18 646.12,969.76 648.91,968.26 651.69,966.68 654.48,965.01 657.27,963.23 660.05,961.34 662.83,959.31 665.62,957.11 668.39,954.71 671.16,952.06 673.87,949.11 671.73,947 668.89,949.7 666.12,952.08 663.36,954.24 660.59,956.22 657.83,958.05 655.08,959.75 652.32,961.35 649.56,962.85 646.81,964.27 644.05,965.61 641.3,966.89 638.54,968.1 635.79,969.25 633.03,970.36 630.28,971.41 627.53,972.42 624.77,973.38 622.02,974.3 619.27,975.19 616.52,976.04 613.77,976.85 611.01,977.63 608.26,978.38 605.51,979.1 602.76,979.79 600.01,980.45 597.26,981.08 594.51,981.69 591.76,982.27 589.01,982.83 586.25,983.37 583.5,983.88 580.75,984.37 578,984.84 575.25,985.28 572.5,985.71 569.75,986.11 567,986.49 564.26,986.86 561.51,987.2 558.76,987.53 556.01,987.84 553.26,988.13 550.51,988.4 547.76,988.65 545.01,988.89 542.26,989.1 539.51,989.3 536.76,989.49 534.01,989.65 531.26,989.8 528.52,989.93 525.77,990.05 523.02,990.15 520.27,990.23 517.52,990.3 514.77,990.35 512.02,990.38 509.27,990.4 506.52,990.4 503.78,990.38 501.03,990.35 498.28,990.3 495.53,990.24 492.78,990.16 490.03,990.06 487.28,989.94 484.53,989.81 481.79,989.66 479.04,989.5 476.29,989.32 473.54,989.12 470.79,988.9 468.04,988.67 465.29,988.42 462.54,988.15 459.79,987.86 457.04,987.55 454.29,987.23 451.54,986.89 448.79,986.52 446.04,986.14 443.29,985.74 440.54,985.31 437.79,984.87 435.04,984.4 432.29,983.91 429.54,983.4 426.79,982.87 424.04,982.31 421.29,981.73 418.54,981.13 415.79,980.49 413.04,979.83 410.29,979.15 407.54,978.43 404.78,977.68 402.03,976.91 399.28,976.1 396.53,975.25 393.78,974.37 391.02,973.45 388.27,972.49 385.52,971.48 382.76,970.43 380.01,969.34 377.26,968.19 374.5,966.98 371.75,965.71 368.99,964.37 366.24,962.96 363.48,961.46 360.72,959.87 357.96,958.17 355.2,956.35 352.44,954.39 349.68,952.25 346.91,949.88 344.07,947.21" fill="#000"/>
<text x="481.5" y="640" font-size="27" font-style="italic" text-anchor="middle">ε</text>
<text x="220.5" y="979.5" font-size="26.5">-k</text>
<text x="688.5" y="979.5" font-size="26.5">k</text>
<text x="844" y="979.5" font-size="26.5">k<tspan font-size="19" font-style="italic" dy="7.5">x</tspan></text>
<text x="307.9" y="855.5" font-size="27" font-style="italic">c<tspan font-size="19" font-style="normal" dy="8">-k,<tspan font-style="italic">σ</tspan></tspan><tspan dy="-8" dx="0">c</tspan><tspan font-size="19" font-style="normal" dy="8">k-Q,<tspan font-style="italic">σ</tspan></tspan></text>
<text x="490.19999999999993" y="1028.9" font-size="27" font-style="italic">c<tspan font-size="19" font-style="normal" dy="8">k,<tspan font-style="italic">σ</tspan></tspan><tspan dy="-8" dx="0">c</tspan><tspan font-size="19" font-style="normal" dy="8">-k+Q,<tspan font-style="italic">σ</tspan></tspan></text>
</g>
<text x="712.1" y="720.45" font-size="26.4" text-anchor="middle" font-family="'Noto Sans CJK JP', sans-serif" font-weight="500">↓</text>
<text x="798.1" y="719.15" font-size="26.4" text-anchor="middle" font-family="'Noto Sans CJK JP', sans-serif" font-weight="500">↑</text>
<text x="1632.5" y="719.35" font-size="26.4" text-anchor="middle" font-family="'Noto Sans CJK JP', sans-serif" font-weight="500">↓</text>
<text x="1656.2" y="719.35" font-size="26.4" text-anchor="middle" font-family="'Noto Sans CJK JP', sans-serif" font-weight="500">↑</text>
<text x="1730.7" y="720.75" font-size="26.4" text-anchor="middle" font-family="'Noto Sans CJK JP', sans-serif" font-weight="500">↑</text>
<text x="1754.2" y="720.75" font-size="26.4" text-anchor="middle" font-family="'Noto Sans CJK JP', sans-serif" font-weight="500">↓</text>
<text x="1642" y="715.4" font-size="28.8">(</text>
<text x="1664.5" y="715.4" font-size="28.8">)</text>
<text x="1739.9" y="716.6" font-size="28.8">(</text>
<text x="1762.4" y="716.6" font-size="28.8">)</text>
<text x="365" y="596.6" font-size="27.7" font-weight="bold">Rashba SOC</text>
<text x="1212.8" y="595.9" font-size="27.7" font-weight="bold">Rashba+Dresselhaus SOC</text>
<text x="46.7" y="25.3" font-size="30" font-weight="bold">a</text>
<text x="46.7" y="560" font-size="30" font-weight="bold">b</text>
<text x="1000" y="558.3" font-size="30" font-weight="bold">c</text>
<text x="46.5" y="1206.5" font-size="30" font-weight="bold">d</text>
<text x="999" y="1206.6" font-size="30" font-weight="bold">e</text>
<text x="46.5" y="1892.8" font-size="30" font-weight="bold">f</text>
<text x="999" y="1891.8" font-size="30" font-weight="bold">g</text>
<g clip-path="url(#clipd)" fill="none" stroke-width="3.3" stroke-linejoin="round">
<path d="M96.44,1607.34L122.14,1604.71L166.52,1601.27L184.69,1599.17L195.85,1597.28L205.71,1595.02L214.53,1592.34L222.84,1589.06L230.11,1585.43L236.85,1581.26L243.34,1576.4L249.57,1570.87L256.84,1563.28L264.11,1554.48L270.6,1545.67L283.05,1527.61L287.99,1521.37L290.84,1518.63L293.44,1517L295.77,1516.47L298.11,1516.98L300.44,1518.56L303.04,1521.5L305.89,1525.95L309.01,1531.91L322.76,1563.52L332.37,1587.82L337.82,1603.77L343.27,1621.87L358.32,1678.63L363.51,1696.8L369.22,1713.69L372.08,1720.63L374.67,1725.99L378.31,1732.04L382.2,1736.92L386.35,1740.65L391.03,1743.45L394.92,1744.88L399.33,1745.79L414.9,1746.68L421.13,1747.6L548.57,1747.59L563.1,1746.36L571.67,1744.77L575.3,1743.56L578.68,1741.97L581.79,1740.02L584.91,1737.5L590.36,1731.43L595.29,1723.8L599.96,1714.4L604.63,1702.68L608.52,1691.1L612.94,1676.33L630.59,1611.77L634.74,1598.58L638.63,1588.06L643.04,1578.07L653.95,1555.95L661.99,1536.54L665.37,1529.21L667.7,1525.03L669.78,1522.11L671.85,1520.08L673.93,1519.02L676.27,1518.92L678.86,1519.99L681.72,1522.29L684.83,1525.77L690.02,1533.22L699.63,1549.69L703.78,1556.24L709.23,1563.66L714.68,1569.88L720.13,1575.03L726.1,1579.63L732.33,1583.52L740.11,1587.55L752.05,1592.54L766.33,1597.22L783.72,1601.81L803.7,1606.17L822.39,1609.5L840.04,1611.89L855.09,1613.23L874.56,1614.08" stroke="#3c3c3c"/>
<path d="M96.44,1607.39L122.91,1604.69L167.04,1601.28L185.2,1599.19L196.11,1597.36L205.97,1595.12L214.79,1592.47L223.1,1589.23L230.11,1585.78L236.85,1581.68L243.34,1576.91L249.57,1571.47L256.58,1564.28L263.85,1555.63L270.34,1546.95L282.79,1529.13L287.99,1522.63L291.1,1519.69L293.7,1518.11L296.03,1517.59L298.37,1518.08L300.96,1519.85L303.56,1522.81L306.41,1527.21L309.53,1533.04L322.76,1562.66L332.37,1586.58L337.82,1602.3L343.53,1621.12L358.84,1678.79L364.29,1697.79L370,1714.47L372.86,1721.3L375.45,1726.55L379.09,1732.47L382.98,1737.24L387.13,1740.87L391.54,1743.47L395.44,1744.89L399.85,1745.8L415.16,1746.66L421.65,1747.6L548.05,1747.59L562.59,1746.37L571.15,1744.78L574.78,1743.57L578.16,1742L581.27,1740.05L584.39,1737.53L589.84,1731.48L594.77,1723.87L599.44,1714.5L604.11,1702.8L608.01,1691.24L612.42,1676.48L630.33,1611.05L634.48,1597.97L638.37,1587.58L642.79,1577.73L653.43,1556.59L661.73,1537.09L665.11,1529.99L667.44,1525.94L669.52,1523.11L671.59,1521.15L673.67,1520.12L676.01,1520.03L678.6,1521.07L681.46,1523.3L684.57,1526.7L689.76,1534.04L699.11,1549.91L703.52,1556.8L708.97,1564.13L714.68,1570.53L720.13,1575.57L725.84,1579.89L732.33,1583.88L740.11,1587.85L752.31,1592.87L766.59,1597.48L784.24,1602.09L804.22,1606.4L822.65,1609.64L840.04,1611.96L854.83,1613.25L874.56,1614.13" stroke="#d23a3a"/>
<path d="M96.44,1607.5L124.73,1604.67L168.33,1601.3L185.72,1599.34L196.62,1597.56L206.49,1595.39L215.31,1592.83L223.36,1589.8L230.11,1586.62L236.6,1582.89L242.82,1578.56L248.79,1573.64L255.8,1566.84L262.81,1558.91L269.3,1550.65L282.28,1533L288.24,1525.99L291.62,1523.01L294.73,1521.23L297.59,1520.67L300.44,1521.31L303.3,1523.15L306.41,1526.39L309.79,1531.12L313.42,1537.31L318.35,1546.95L325.36,1561.81L334.96,1584.76L340.67,1600.88L346.38,1619.47L362.48,1679.89L367.67,1697.91L373.64,1715.24L376.23,1721.39L379.09,1727.1L382.72,1732.89L386.61,1737.54L390.77,1741.09L395.18,1743.6L399.07,1744.98L403.48,1745.84L418.54,1746.67L425.03,1747.6L544.68,1747.59L559.21,1746.37L567.78,1744.79L571.41,1743.59L574.78,1742.02L577.9,1740.08L581.01,1737.57L586.46,1731.54L591.39,1723.94L596.07,1714.59L600.74,1702.91L604.63,1691.36L609.04,1676.62L626.95,1611.2L631.37,1597.39L635.52,1586.57L640.45,1576.07L650.83,1556.68L658.36,1540.57L661.73,1534.1L664.33,1529.92L666.92,1526.61L669.26,1524.51L671.59,1523.32L674.45,1523.06L677.3,1523.98L680.68,1526.3L684.05,1529.67L688.98,1536.25L698.85,1552.25L703.52,1559.13L709.23,1566.35L714.94,1572.35L720.39,1577.06L726.1,1581.11L732.59,1584.88L740.37,1588.69L752.83,1593.62L767.37,1598.16L785.28,1602.7L805,1606.85L822.91,1609.92L839.78,1612.11L853.54,1613.27L874.56,1614.24" stroke="#2a5fc6"/>
<path d="M96.44,1607.62L126.81,1604.65L169.37,1601.37L186.24,1599.51L197.14,1597.79L206.75,1595.76L215.31,1593.39L223.36,1590.53L231.4,1586.86L238.67,1582.68L245.68,1577.71L252.43,1571.92L262.55,1561.32L282.53,1536.06L286.69,1531.39L290.32,1527.98L293.7,1525.58L297.07,1524.13L300.18,1523.79L303.3,1524.54L306.67,1526.58L310.05,1529.82L313.68,1534.51L317.31,1540.26L321.99,1548.82L327.96,1560.91L337.3,1582.64L343.27,1599.14L349.24,1618.36L354.69,1637.96L365.59,1679.67L371.04,1698.55L377.01,1715.74L379.61,1721.82L382.46,1727.46L386.09,1733.17L389.99,1737.74L394.14,1741.23L398.55,1743.69L402.45,1745.03L406.6,1745.83L421.65,1746.66L428.14,1747.6L541.56,1747.59L556.1,1746.37L564.66,1744.77L568.3,1743.56L571.67,1741.99L574.78,1740.04L577.9,1737.51L583.35,1731.46L588.28,1723.83L592.95,1714.45L597.62,1702.74L601.52,1691.17L605.93,1676.41L624.1,1610.14L628.51,1596.49L632.66,1585.86L637.59,1575.59L647.2,1558.31L654.72,1543.34L658.1,1537.34L660.95,1533.13L663.81,1529.82L666.4,1527.7L669,1526.48L672.11,1526.12L675.49,1526.95L679.12,1529.03L683.01,1532.44L688.21,1538.88L698.07,1554L703.26,1561.22L709.23,1568.33L715.46,1574.43L720.65,1578.58L726.36,1582.36L733.37,1586.19L740.89,1589.68L753.35,1594.4L768.15,1598.86L786.31,1603.34L806.04,1607.38L823.43,1610.26L839.52,1612.26L852.24,1613.3L874.56,1614.36" stroke="#35a066"/>
<path d="M96.44,1607.63L104.49,1607.1L128.1,1604.6L169.63,1601.42L186.24,1599.62L197.14,1597.94L206.75,1595.95L215.31,1593.64L223.36,1590.84L231.4,1587.26L238.67,1583.18L245.68,1578.32L252.43,1572.66L258.14,1567.06L264.11,1560.44L283.83,1535.95L287.47,1532.1L290.84,1529.1L294.73,1526.49L298.63,1524.96L302.26,1524.68L305.63,1525.56L309.01,1527.58L312.38,1530.74L316.02,1535.33L319.65,1541L324.32,1549.48L330.03,1560.99L334.7,1571.32L339.38,1582.68L345.34,1599.17L351.31,1618.41L356.77,1638.01L367.67,1679.71L373.12,1698.59L379.09,1715.77L381.68,1721.85L384.54,1727.48L388.17,1733.18L392.06,1737.75L396.22,1741.23L400.63,1743.69L404.52,1745.03L408.67,1745.83L423.73,1746.66L430.22,1747.6L539.49,1747.59L554.28,1746.34L562.84,1744.7L566.48,1743.46L569.85,1741.85L572.97,1739.86L576.08,1737.29L581.27,1731.47L586.2,1723.86L590.88,1714.48L595.55,1702.77L599.44,1691.2L603.85,1676.45L622.02,1610.18L626.43,1596.52L630.59,1585.9L635.52,1575.63L644.86,1558.92L652.39,1544.19L655.76,1538.26L658.62,1534.12L661.47,1530.88L664.07,1528.77L666.92,1527.41L670.04,1526.97L673.41,1527.54L676.79,1529.04L680.42,1531.59L683.53,1534.58L686.91,1538.69L697.81,1554.9L702.74,1561.62L707.15,1566.93L711.82,1571.81L717.79,1577.02L724.28,1581.57L732.07,1585.94L741.15,1590.13L753.87,1594.84L768.92,1599.28L787.35,1603.75L806.82,1607.66L823.69,1610.41L839.52,1612.34L851.98,1613.33L874.56,1614.37" stroke="#a876d8"/>
<path d="M96.44,1607.63L104.23,1607.1L127.59,1604.62L169.63,1601.39L186.24,1599.57L197.14,1597.88L206.75,1595.88L215.31,1593.54L223.36,1590.72L231.4,1587.1L238.67,1582.98L245.68,1578.08L252.43,1572.37L262.29,1562.17L282.53,1536.92L286.69,1532.32L290.58,1528.75L294.47,1526.1L298.11,1524.67L301.48,1524.37L304.86,1525.22L308.23,1527.24L311.6,1530.41L315.24,1535.01L319.13,1541.12L323.8,1549.67L329.51,1561.22L334.18,1571.59L338.86,1582.98L344.83,1599.52L350.8,1618.8L356.25,1638.44L367.15,1680.14L372.6,1698.96L378.57,1716.06L381.16,1722.1L384.02,1727.68L387.65,1733.34L391.28,1737.61L395.44,1741.13L399.85,1743.63L403.74,1745L407.9,1745.81L423.21,1746.67L429.7,1747.6L540.26,1747.58L554.8,1746.35L563.36,1744.74L567,1743.51L570.37,1741.91L573.49,1739.94L576.6,1737.39L582.05,1731.28L586.98,1723.6L591.65,1714.15L596.33,1702.38L600.22,1690.75L604.37,1676.85L622.54,1610.56L626.95,1596.85L631.11,1586.16L636.04,1575.84L645.64,1558.63L652.91,1544.32L656.28,1538.32L659.14,1534.1L661.99,1530.77L664.85,1528.41L667.7,1527.07L670.82,1526.68L673.93,1527.25L677.3,1528.81L680.68,1531.24L683.79,1534.27L687.17,1538.43L697.81,1554.4L702.74,1561.2L707.15,1566.56L711.82,1571.5L717.79,1576.77L724.28,1581.37L732.07,1585.77L740.89,1589.89L753.35,1594.56L768.41,1599.06L786.57,1603.5L806.3,1607.51L823.43,1610.33L839.52,1612.31L851.98,1613.31L874.56,1614.37" stroke="#c99a1e"/>
<path d="M96.44,1607.63L127.07,1604.64L169.37,1601.38L186.24,1599.53L197.14,1597.82L206.75,1595.8L215.31,1593.44L223.36,1590.59L231.4,1586.94L238.67,1582.78L245.68,1577.83L252.43,1572.07L262.55,1561.5L282.53,1536.34L286.69,1531.69L290.58,1528.07L293.95,1525.73L297.33,1524.31L300.44,1523.98L303.56,1524.71L306.93,1526.72L310.31,1529.9L313.94,1534.53L317.57,1540.23L322.25,1548.75L328.21,1560.8L337.56,1582.5L343.53,1598.96L349.5,1618.16L354.95,1637.75L365.85,1679.45L371.3,1698.37L377.27,1715.59L379.86,1721.7L382.72,1727.35L386.35,1733.09L390.25,1737.68L394.4,1741.19L398.81,1743.66L402.7,1745.01L406.86,1745.82L422.17,1746.68L428.4,1747.6L541.3,1747.58L555.84,1746.36L564.4,1744.76L568.04,1743.54L571.41,1741.95L574.52,1739.99L577.64,1737.46L583.09,1731.38L588.02,1723.73L592.69,1714.32L597.36,1702.58L601.26,1690.98L605.67,1676.2L623.58,1610.81L627.99,1597.06L632.4,1585.73L637.33,1575.48L646.68,1558.72L654.21,1543.81L657.58,1537.79L660.43,1533.54L663.29,1530.2L666.14,1527.86L668.74,1526.66L672.11,1526.33L675.49,1527.22L679.12,1529.33L682.76,1532.48L687.95,1538.83L698.07,1554.26L703.26,1561.44L709.23,1568.51L715.46,1574.56L720.65,1578.69L726.36,1582.45L733.37,1586.27L740.89,1589.75L753.35,1594.45L768.15,1598.9L786.31,1603.37L806.04,1607.4L823.17,1610.24L839.26,1612.25L851.98,1613.29L874.56,1614.37" stroke="#1fbfbd"/>
</g>
<rect x="635.8" y="1511.4" width="79.6" height="45.7" fill="#c8c8c8" fill-opacity="0.6" stroke="#6ee86e" stroke-width="4.2"/>
<line x1="635.8" y1="1511.4" x2="562.3" y2="1405.1" stroke="#6ee86e" stroke-width="4.2"/>
<line x1="715.4" y1="1511.4" x2="866.2" y2="1405.1" stroke="#6ee86e" stroke-width="4.2"/>
<rect x="562.3" y="1213.8" width="303.9" height="191.3" fill="#fff"/>
<g clip-path="url(#clipind)" fill="none" stroke-width="3.0" stroke-linejoin="round">
<path d="M549.89,1602.25L556.83,1578.98L563.78,1557.39L570.72,1537.56L577.67,1519.28L584.61,1502.27L591.56,1486.22L618.34,1427.79L629.26,1402.68L639.18,1377.68L660.01,1321.51L669.93,1297.06L674.89,1286.07L679.85,1276.1L684.81,1267.29L688.78,1261.17L693.74,1254.79L697.71,1250.78L701.68,1247.78L705.65,1245.8L709.62,1244.81L712.59,1244.68L714.58,1244.87L719.54,1246.28L724.5,1248.88L729.46,1252.55L734.42,1257.13L740.37,1263.64L746.32,1271.1L751.28,1277.95L756.24,1285.33L767.16,1303.28L777.08,1321.31L797.91,1361.09L806.84,1377.65L816.76,1394.96L826.68,1410.95L839.58,1429.88L852.48,1446.85L865.37,1462.01L872.32,1469.46L879.26,1476.46" stroke="#3c3c3c"/>
<path d="M549.89,1596.07L556.83,1573.25L562.79,1555.07L569.73,1535.51L576.67,1517.48L583.62,1500.72L590.56,1484.92L617.35,1427.57L628.26,1402.97L638.18,1378.44L659.02,1323.73L668.94,1300.05L673.9,1289.41L678.86,1279.75L683.82,1271.22L687.79,1265.28L692.75,1259.1L696.72,1255.22L700.69,1252.32L704.65,1250.41L708.62,1249.46L711.6,1249.34L713.58,1249.53L718.54,1250.89L723.5,1253.43L728.47,1256.99L734.42,1262.43L740.37,1268.92L746.32,1276.34L751.28,1283.16L756.24,1290.52L766.16,1306.74L776.09,1324.61L796.92,1363.98L805.85,1380.34L815.77,1397.4L825.69,1413.18L838.59,1431.87L851.49,1448.63L858.43,1456.9L865.37,1464.67L872.32,1471.96L879.26,1478.79" stroke="#d23a3a"/>
<path d="M549.89,1555.86L554.85,1541.81L560.8,1526.07L566.75,1511.4L572.71,1497.65L583.62,1474.22L606.44,1428.38L616.36,1407.66L625.29,1387.53L646.12,1338.06L653.07,1322.75L659.02,1310.62L664.97,1299.53L669.93,1291.19L675.88,1282.38L680.84,1276.15L685.81,1271.01L690.77,1267.04L695.73,1264.27L700.69,1262.67L705.65,1262.19L710.61,1262.79L715.57,1264.37L721.52,1267.45L727.47,1271.7L733.43,1276.94L739.38,1283.09L745.33,1290.12L754.26,1302.21L763.19,1316.07L773.11,1333.07L793.94,1370.78L802.87,1386.45L813.79,1404.4L824.7,1420.95L837.6,1438.76L844.54,1447.59L851.49,1455.91L858.43,1463.73L865.37,1471.07L872.32,1477.96L879.26,1484.42" stroke="#2a5fc6"/>
<path d="M549.89,1523.17L558.82,1501.96L567.75,1482.59L576.67,1464.53L603.46,1412.22L611.4,1395.53L634.22,1345.35L641.16,1331.45L648.11,1318.81L654.06,1309.07L660.01,1300.44L665.96,1292.98L671.92,1286.77L677.87,1281.88L682.83,1278.84L685.81,1277.47L688.78,1276.43L691.76,1275.7L694.73,1275.29L699.69,1275.26L705.65,1276.25L711.6,1278.29L717.55,1281.3L723.5,1285.19L730.45,1290.75L736.4,1296.4L742.35,1302.87L751.28,1314.14L760.21,1327.2L770.13,1343.25L790.97,1378.92L800.89,1395.32L812.79,1413.72L823.71,1429.32L836.6,1446.16L843.55,1454.52L850.49,1462.4L857.44,1469.81L864.38,1476.76L871.33,1483.29L879.26,1490.24" stroke="#35a066"/>
<path d="M549.89,1504.35L556.83,1489.03L564.77,1472.61L589.57,1424.53L598.5,1406.66L620.33,1359.36L627.27,1344.87L635.21,1329.68L642.15,1317.81L648.11,1308.78L654.06,1300.88L660.01,1294.15L665.96,1288.64L671.92,1284.39L677.87,1281.38L683.82,1279.56L689.77,1278.82L695.73,1279.09L701.68,1280.28L707.63,1282.33L714.58,1285.72L721.52,1290.13L727.47,1294.7L734.42,1300.99L740.37,1307.25L749.3,1318.18L759.22,1332.39L769.14,1348.15L789.98,1383.03L799.9,1399L811.8,1416.97L823.71,1433.56L836.6,1449.93L843.55,1458.06L850.49,1465.72L857.44,1472.92L864.38,1479.68L871.33,1486.01L879.26,1492.77" stroke="#a876d8"/>
<path d="M549.89,1509.96L557.82,1492.1L565.76,1475.49L592.55,1423.37L601.48,1405.4L622.31,1360.01L629.26,1345.37L637.19,1329.98L644.14,1317.9L650.09,1308.68L656.04,1300.58L661.99,1293.65L667.95,1287.95L673.9,1283.51L679.85,1280.35L685.81,1278.4L691.76,1277.59L697.71,1277.82L703.66,1279.03L709.62,1281.15L715.57,1284.11L722.51,1288.55L728.47,1293.18L735.41,1299.56L741.36,1305.91L750.29,1316.98L759.22,1329.83L769.14,1345.62L789.98,1380.76L799.9,1396.93L811.8,1415.11L823.71,1431.88L836.6,1448.44L843.55,1456.66L850.49,1464.4L857.44,1471.68L864.38,1478.52L871.33,1484.93L879.26,1491.77" stroke="#c99a1e"/>
<path d="M549.89,1520.16L558.82,1499.24L567.75,1480.09L575.68,1464.12L602.47,1411.88L610.41,1395.2L632.23,1347.31L640.17,1331.46L647.11,1318.94L653.07,1309.32L659.02,1300.8L664.97,1293.46L670.92,1287.35L676.88,1282.55L681.84,1279.57L687.79,1277.21L693.74,1276.09L698.7,1276.05L704.65,1277.01L710.61,1278.99L716.56,1281.92L722.51,1285.71L729.46,1291.15L736.4,1297.69L742.35,1304.17L751.28,1315.46L760.21,1328.53L770.13,1344.55L790.97,1380.08L799.9,1394.79L811.8,1413.2L823.71,1430.18L836.6,1446.92L843.55,1455.24L850.49,1463.07L857.44,1470.44L864.38,1477.35L871.33,1483.84L879.26,1490.75" stroke="#1fbfbd"/>
</g>
<rect x="562.3" y="1213.8" width="303.9" height="191.3" fill="none" stroke="#000" stroke-width="3.6"/>
<line x1="551.3" y1="1405.1" x2="562.3" y2="1405.1" stroke="#000" stroke-width="3.2"/>
<line x1="551.3" y1="1245.4" x2="562.3" y2="1245.4" stroke="#000" stroke-width="3.2"/>
<line x1="557.3" y1="1325.25" x2="562.3" y2="1325.25" stroke="#000" stroke-width="3.2"/>
<line x1="593.38" y1="1405.1" x2="593.38" y2="1416.1" stroke="#000" stroke-width="3.2"/>
<line x1="836.18" y1="1405.1" x2="836.18" y2="1416.1" stroke="#000" stroke-width="3.2"/>
<line x1="714.78" y1="1405.1" x2="714.78" y2="1410.1" stroke="#000" stroke-width="3.2"/>
<text x="547.3" y="1413.1" font-size="27" text-anchor="end">0.5</text>
<text x="547.3" y="1253.4" font-size="27" text-anchor="end">0.6</text>
<text x="593.38" y="1440.6" font-size="27" text-anchor="middle">0.1</text>
<text x="836.18" y="1440.6" font-size="27" text-anchor="middle">0.14</text>
<rect x="104" y="1213.8" width="762.2" height="534" fill="none" stroke="#000" stroke-width="3.6"/>
<line x1="91" y1="1747.6" x2="104" y2="1747.6" stroke="#000" stroke-width="3.4"/>
<line x1="91" y1="1595.2" x2="104" y2="1595.2" stroke="#000" stroke-width="3.4"/>
<line x1="91" y1="1442.8" x2="104" y2="1442.8" stroke="#000" stroke-width="3.4"/>
<line x1="91" y1="1290.4" x2="104" y2="1290.4" stroke="#000" stroke-width="3.4"/>
<line x1="98" y1="1671.4" x2="104" y2="1671.4" stroke="#000" stroke-width="3.4"/>
<line x1="98" y1="1519" x2="104" y2="1519" stroke="#000" stroke-width="3.4"/>
<line x1="98" y1="1366.6" x2="104" y2="1366.6" stroke="#000" stroke-width="3.4"/>
<line x1="167.9" y1="1747.8" x2="167.9" y2="1760.8" stroke="#000" stroke-width="3.4"/>
<line x1="326.7" y1="1747.8" x2="326.7" y2="1760.8" stroke="#000" stroke-width="3.4"/>
<line x1="485.5" y1="1747.8" x2="485.5" y2="1760.8" stroke="#000" stroke-width="3.4"/>
<line x1="644.3" y1="1747.8" x2="644.3" y2="1760.8" stroke="#000" stroke-width="3.4"/>
<line x1="803.1" y1="1747.8" x2="803.1" y2="1760.8" stroke="#000" stroke-width="3.4"/>
<line x1="247.3" y1="1747.8" x2="247.3" y2="1753.8" stroke="#000" stroke-width="3.4"/>
<line x1="406.1" y1="1747.8" x2="406.1" y2="1753.8" stroke="#000" stroke-width="3.4"/>
<line x1="564.9" y1="1747.8" x2="564.9" y2="1753.8" stroke="#000" stroke-width="3.4"/>
<line x1="723.7" y1="1747.8" x2="723.7" y2="1753.8" stroke="#000" stroke-width="3.4"/>
<text x="80.5" y="1755.4" font-size="27" text-anchor="end">0</text>
<text x="80.5" y="1603" font-size="27" text-anchor="end">0.4</text>
<text x="80.5" y="1450.6" font-size="27" text-anchor="end">0.8</text>
<text x="80.5" y="1298.2" font-size="27" text-anchor="end">1.2</text>
<text x="167.9" y="1792" font-size="27" text-anchor="middle">-0.2</text>
<text x="326.7" y="1792" font-size="27" text-anchor="middle">-0.1</text>
<text x="485.5" y="1792" font-size="27" text-anchor="middle">0</text>
<text x="644.3" y="1792" font-size="27" text-anchor="middle">0.1</text>
<text x="803.1" y="1792" font-size="27" text-anchor="middle">0.2</text>
<text transform="translate(29,1474.3) rotate(-90)" font-size="27.5" font-style="italic" text-anchor="middle">ρ(ω)</text>
<text x="486" y="1818.8" font-size="27.5" font-style="italic" text-anchor="middle">ω</text>
<text x="169.7" y="1244.8" font-size="28.3" font-weight="bold">site #</text>
<line x1="114" y1="1272.7" x2="179.7" y2="1272.7" stroke="#3c3c3c" stroke-width="2.8"/>
<text x="185" y="1282" font-size="28">1</text>
<line x1="114" y1="1308.2" x2="179.7" y2="1308.2" stroke="#d23a3a" stroke-width="2.8"/>
<text x="185" y="1317.5" font-size="28">2,12</text>
<line x1="114" y1="1343.7" x2="179.7" y2="1343.7" stroke="#2a5fc6" stroke-width="2.8"/>
<text x="185" y="1353" font-size="28">3,11</text>
<line x1="114" y1="1379.2" x2="179.7" y2="1379.2" stroke="#35a066" stroke-width="2.8"/>
<text x="185" y="1388.5" font-size="28">4,10</text>
<line x1="114" y1="1414.7" x2="179.7" y2="1414.7" stroke="#a876d8" stroke-width="2.8"/>
<text x="185" y="1424" font-size="28">5,9</text>
<line x1="114" y1="1450.2" x2="179.7" y2="1450.2" stroke="#c99a1e" stroke-width="2.8"/>
<text x="185" y="1459.5" font-size="28">6,8</text>
<line x1="114" y1="1485.7" x2="179.7" y2="1485.7" stroke="#1fbfbd" stroke-width="2.8"/>
<text x="185" y="1495" font-size="28">7</text>
<g clip-path="url(#clipf)" fill="none" stroke-width="3.2" stroke-linejoin="round">
<path d="M96.44,2358.78L103.71,2358.48L110.2,2353L116.43,2348.51L122.91,2344.6L129.4,2341.43L139.27,2337.88L149.39,2335.64L161.59,2334.55L174.82,2334.92L188.32,2336.44L223.36,2341.85L233.48,2342.69L242.56,2342.73L252.69,2341.64L262.03,2339.21L270.6,2335.39L278.38,2330.17L282.79,2326.27L286.95,2321.82L290.84,2316.8L294.47,2311.21L297.85,2305.02L300.7,2298.82L303.56,2291.47L306.15,2283.5L309.79,2269.44L312.9,2253.16L316.02,2231.18L321.21,2186.65L322.5,2179.42L323.28,2177.27L323.8,2176.96L324.32,2177.67L324.84,2179.48L325.88,2186.74L328.47,2221L331.85,2288.87L334.44,2334.18L336.26,2374.26L337.56,2393.59L339.63,2410.98L341.71,2422.34L344.05,2429.61L345.34,2431.77L346.9,2432.95L623.84,2432.9L628.51,2423.57L630.33,2418.14L632.14,2408.53L633.96,2392.97L636.04,2367.09L637.85,2336.48L643.82,2208.4L645.64,2187.47L646.68,2181.51L647.2,2180.08L647.72,2179.61L648.24,2180.04L649.01,2182.25L650.31,2189.41L654.21,2224.7L655.5,2234.11L659.4,2254.09L663.81,2281.69L666.4,2292.98L667.96,2297.83L670.04,2302.85L672.89,2308.36L676.27,2313.82L679.64,2318.44L683.27,2322.7L687.17,2326.61L691.58,2330.4L696.77,2334.18L702.48,2337.67L708.71,2340.84L715.46,2343.7L722.73,2346.25L730.51,2348.48L739.08,2350.47L748.16,2352.15L764.77,2354.36L784.24,2356L874.56,2360.39" stroke="#3c3c3c"/>
<path d="M96.44,2358.79L104.49,2358.41L109.94,2353.76L115.13,2349.87L120.58,2346.33L126.29,2343.21L132,2340.63L137.97,2338.48L143.94,2336.84L150.17,2335.63L162.36,2334.55L175.6,2334.92L189.1,2336.45L223.88,2341.83L234,2342.68L243.08,2342.74L253.21,2341.67L262.55,2339.27L270.86,2335.63L278.64,2330.52L283.05,2326.69L287.21,2322.33L291.1,2317.41L294.73,2311.93L298.11,2305.88L300.96,2299.84L303.82,2292.68L306.41,2284.95L310.05,2271.37L313.16,2255.78L316.28,2234.85L321.73,2190.69L323.28,2182.5L324.06,2180.55L324.58,2180.27L325.1,2180.92L325.62,2182.63L326.66,2189.57L329.25,2222.79L332.63,2290.16L334.96,2330.32L337.04,2375.55L338.34,2394.31L340.41,2411.42L342.49,2422.62L344.83,2429.75L346.12,2431.85L347.68,2432.98L623.06,2432.99L627.73,2423.71L629.55,2418.4L631.37,2408.97L633.18,2393.65L635.26,2368.04L637.08,2337.72L643.04,2210.78L644.86,2190.52L645.9,2184.83L646.42,2183.46L646.94,2182.98L647.46,2183.31L647.98,2184.38L649.27,2189.92L650.83,2200.91L654.46,2232.21L658.62,2253.64L663.03,2281.26L666.14,2294.46L667.96,2299.67L670.04,2304.3L672.89,2309.57L676.27,2314.84L679.64,2319.31L683.27,2323.44L687.17,2327.25L691.32,2330.75L696.77,2334.64L702.48,2338.05L708.71,2341.17L715.46,2343.97L722.73,2346.47L730.51,2348.66L747.9,2352.22L764.51,2354.41L783.98,2356.03L874.56,2360.4" stroke="#d23a3a"/>
<path d="M96.44,2358.79L103.97,2358.51L109.42,2353.85L114.61,2349.95L120.06,2346.41L125.77,2343.27L131.48,2340.68L137.45,2338.52L143.42,2336.87L149.65,2335.65L161.85,2334.55L175.08,2334.91L188.58,2336.44L223.36,2341.81L233.48,2342.68L242.56,2342.74L252.69,2341.69L262.03,2339.31L270.6,2335.56L278.38,2330.41L282.79,2326.56L286.95,2322.17L290.84,2317.22L294.47,2311.71L297.85,2305.62L300.7,2299.52L303.56,2292.31L306.15,2284.5L309.79,2270.78L312.9,2254.97L316.02,2233.71L321.47,2188.72L322.76,2181.77L323.54,2179.67L324.06,2179.36L324.58,2180.05L325.1,2181.82L326.14,2188.97L328.73,2222.68L332.11,2290.24L334.44,2330.41L336.52,2375.65L337.82,2394.36L339.89,2411.45L341.97,2422.64L344.31,2429.76L345.6,2431.86L347.16,2432.98L623.58,2433L628.51,2423.13L630.33,2417.37L632.14,2407.21L633.96,2390.98L635.78,2368.11L637.59,2337.81L643.56,2210.47L645.38,2189.81L646.42,2183.93L646.94,2182.51L647.46,2182.03L647.98,2182.42L648.75,2184.5L650.05,2191.29L655.24,2234.47L659.14,2254.33L663.55,2281.92L666.4,2294.01L667.96,2298.65L670.04,2303.49L672.89,2308.89L676.27,2314.27L679.64,2318.82L683.27,2323.02L687.17,2326.89L691.58,2330.64L696.77,2334.38L702.48,2337.84L708.71,2340.98L715.46,2343.82L722.73,2346.34L730.51,2348.56L739.08,2350.53L748.16,2352.19L764.77,2354.39L784.24,2356.02L874.56,2360.4" stroke="#2a5fc6"/>
</g>
<rect x="636.2" y="2173" width="25.7" height="54" fill="#c8c8c8" fill-opacity="0.6" stroke="#6ee86e" stroke-width="4.2"/>
<line x1="636.2" y1="2173" x2="562.3" y2="2090.5" stroke="#6ee86e" stroke-width="4.2"/>
<line x1="661.9" y1="2173" x2="866.2" y2="2090.5" stroke="#6ee86e" stroke-width="4.2"/>
<rect x="562.3" y="1900.1" width="303.9" height="190.4" fill="#fff"/>
<g clip-path="url(#clipinf)" fill="none" stroke-width="3.0" stroke-linejoin="round">
<path d="M521.71,2715.85L528.34,2698.51L531.65,2689.11L538.28,2668.9L544.91,2646.8L551.54,2622.66L558.17,2596.37L564.8,2567.85L571.43,2537.07L578.06,2504.05L584.69,2468.88L591.32,2431.66L604.58,2352.84L617.84,2272.2L624.48,2230.12L641.05,2115.8L644.37,2094.64L647.68,2075.42L651,2058.18L654.31,2042.48L660.94,2014.27L664.26,2001.6L670.89,1979.18L674.2,1969.45L677.52,1960.7L680.83,1952.95L684.15,1946.17L687.46,1940.36L690.78,1935.5L694.09,1931.58L697.41,1928.57L700.72,1926.46L704.04,1925.2L707.35,1924.78L710.67,1925.17L713.98,1926.34L717.3,1928.27L720.61,1930.91L723.93,1934.23L727.24,1938.21L730.56,1942.8L733.87,1947.96L737.19,1953.68L743.82,1966.61L747.13,1973.76L753.76,1989.2L760.39,2005.86L767.02,2023.41L786.91,2077.92L793.55,2094.14L800.18,2108.06L806.81,2120.03L813.44,2130.49L820.07,2139.9L839.96,2166.61L849.9,2181.19L856.53,2191.6L866.48,2208.38L893,2257.21L899.63,2269.03L906.26,2280.17" stroke="#3c3c3c"/>
<path d="M521.71,2691.52L528.34,2671.54L534.97,2649.68L541.6,2625.81L548.23,2599.8L558.17,2556.59L564.8,2524.98L571.43,2491.18L578.06,2455.26L584.69,2417.4L607.9,2278.18L617.84,2215.17L631.11,2123.92L634.42,2102.69L637.74,2083.4L641.05,2066.23L644.37,2050.74L651,2023.15L654.31,2010.81L657.63,1999.46L660.94,1989.09L664.26,1979.71L667.57,1971.31L670.89,1963.87L674.2,1957.4L677.52,1951.86L680.83,1947.23L684.15,1943.5L687.46,1940.62L690.78,1938.58L694.09,1937.33L697.41,1936.84L700.72,1937.08L704.04,1938.03L707.35,1939.64L710.67,1941.88L713.98,1944.74L717.3,1948.17L720.61,1952.17L727.24,1961.71L730.56,1967.22L737.19,1979.59L747.13,2001.07L757.08,2025.17L780.28,2085.43L786.91,2100.36L793.55,2113.2L800.18,2124.33L806.81,2134.2L830.01,2165.26L839.96,2179.67L846.59,2189.98L853.22,2200.9L859.85,2212.47L889.68,2267.24L899.63,2283.82L906.26,2293.83" stroke="#d23a3a"/>
<path d="M521.71,2709.75L528.34,2691.71L534.97,2671.74L541.6,2649.9L548.23,2626.05L554.86,2600.06L561.49,2571.84L568.12,2541.37L574.75,2508.67L581.38,2473.8L588.01,2436.89L601.27,2358.49L614.53,2278.37L621.16,2236.9L627.79,2192.73L637.74,2123.61L641.05,2102.24L644.37,2082.8L647.68,2065.46L651,2049.8L657.63,2021.85L660.94,2009.31L667.57,1987.16L670.89,1977.56L674.2,1968.95L677.52,1961.31L680.83,1954.63L684.15,1948.91L687.46,1944.12L690.78,1940.25L694.09,1937.28L697.41,1935.17L700.72,1933.91L704.04,1933.46L707.35,1933.79L710.67,1934.87L713.98,1936.67L717.3,1939.15L720.61,1942.29L723.93,1946.04L727.24,1950.38L730.56,1955.28L733.87,1960.7L740.5,1972.99L743.82,1979.8L750.45,1994.56L757.08,2010.55L763.71,2027.47L783.6,2080.44L790.23,2096.17L796.86,2109.67L803.49,2121.32L810.12,2131.54L816.75,2140.8L836.64,2167.4L846.59,2182.02L853.22,2192.46L859.85,2203.54L866.48,2215.26L893,2264.16L899.63,2275.61L906.26,2286.27" stroke="#2a5fc6"/>
</g>
<rect x="562.3" y="1900.1" width="303.9" height="190.4" fill="none" stroke="#000" stroke-width="3.6"/>
<line x1="551.3" y1="2090.5" x2="562.3" y2="2090.5" stroke="#000" stroke-width="3.2"/>
<line x1="551.3" y1="1984.5" x2="562.3" y2="1984.5" stroke="#000" stroke-width="3.2"/>
<line x1="557.3" y1="2037.5" x2="562.3" y2="2037.5" stroke="#000" stroke-width="3.2"/>
<line x1="557.3" y1="1931.5" x2="562.3" y2="1931.5" stroke="#000" stroke-width="3.2"/>
<line x1="582.58" y1="2090.5" x2="582.58" y2="2101.5" stroke="#000" stroke-width="3.2"/>
<line x1="825.98" y1="2090.5" x2="825.98" y2="2101.5" stroke="#000" stroke-width="3.2"/>
<line x1="704.28" y1="2090.5" x2="704.28" y2="2095.5" stroke="#000" stroke-width="3.2"/>
<text x="547.3" y="2098.5" font-size="27" text-anchor="end">0.7</text>
<text x="547.3" y="1992.5" font-size="27" text-anchor="end">0.8</text>
<text x="582.58" y="2126" font-size="27" text-anchor="middle">0.096</text>
<text x="825.98" y="2126" font-size="27" text-anchor="middle">0.108</text>
<rect x="104" y="1900.1" width="762.2" height="532.9" fill="none" stroke="#000" stroke-width="3.6"/>
<line x1="91" y1="2433" x2="104" y2="2433" stroke="#000" stroke-width="3.4"/>
<line x1="91" y1="2314.64" x2="104" y2="2314.64" stroke="#000" stroke-width="3.4"/>
<line x1="91" y1="2196.28" x2="104" y2="2196.28" stroke="#000" stroke-width="3.4"/>
<line x1="91" y1="2077.92" x2="104" y2="2077.92" stroke="#000" stroke-width="3.4"/>
<line x1="91" y1="1959.56" x2="104" y2="1959.56" stroke="#000" stroke-width="3.4"/>
<line x1="98" y1="2373.82" x2="104" y2="2373.82" stroke="#000" stroke-width="3.4"/>
<line x1="98" y1="2255.46" x2="104" y2="2255.46" stroke="#000" stroke-width="3.4"/>
<line x1="98" y1="2137.1" x2="104" y2="2137.1" stroke="#000" stroke-width="3.4"/>
<line x1="98" y1="2018.74" x2="104" y2="2018.74" stroke="#000" stroke-width="3.4"/>
<line x1="167.9" y1="2433" x2="167.9" y2="2446" stroke="#000" stroke-width="3.4"/>
<line x1="326.7" y1="2433" x2="326.7" y2="2446" stroke="#000" stroke-width="3.4"/>
<line x1="485.5" y1="2433" x2="485.5" y2="2446" stroke="#000" stroke-width="3.4"/>
<line x1="644.3" y1="2433" x2="644.3" y2="2446" stroke="#000" stroke-width="3.4"/>
<line x1="803.1" y1="2433" x2="803.1" y2="2446" stroke="#000" stroke-width="3.4"/>
<line x1="247.3" y1="2433" x2="247.3" y2="2439" stroke="#000" stroke-width="3.4"/>
<line x1="406.1" y1="2433" x2="406.1" y2="2439" stroke="#000" stroke-width="3.4"/>
<line x1="564.9" y1="2433" x2="564.9" y2="2439" stroke="#000" stroke-width="3.4"/>
<line x1="723.7" y1="2433" x2="723.7" y2="2439" stroke="#000" stroke-width="3.4"/>
<text x="80.5" y="2440.8" font-size="27" text-anchor="end">0</text>
<text x="80.5" y="2322.44" font-size="27" text-anchor="end">0.4</text>
<text x="80.5" y="2204.08" font-size="27" text-anchor="end">0.8</text>
<text x="80.5" y="2085.72" font-size="27" text-anchor="end">1.2</text>
<text x="80.5" y="1967.36" font-size="27" text-anchor="end">1.6</text>
<text x="167.9" y="2477.2" font-size="27" text-anchor="middle">-0.2</text>
<text x="326.7" y="2477.2" font-size="27" text-anchor="middle">-0.1</text>
<text x="485.5" y="2477.2" font-size="27" text-anchor="middle">0</text>
<text x="644.3" y="2477.2" font-size="27" text-anchor="middle">0.1</text>
<text x="803.1" y="2477.2" font-size="27" text-anchor="middle">0.2</text>
<text transform="translate(29,2160.05) rotate(-90)" font-size="27.5" font-style="italic" text-anchor="middle">ρ(ω)</text>
<text x="486" y="2504" font-size="27.5" font-style="italic" text-anchor="middle">ω</text>
<text x="179.7" y="1933" font-size="28.3" font-weight="bold">site #</text>
<line x1="124" y1="1960" x2="188.9" y2="1960" stroke="#3c3c3c" stroke-width="2.8"/>
<text x="195" y="1969.3" font-size="28">1</text>
<line x1="124" y1="1995.5" x2="188.9" y2="1995.5" stroke="#d23a3a" stroke-width="2.8"/>
<text x="195" y="2004.8" font-size="28">2,4</text>
<line x1="124" y1="2031" x2="188.9" y2="2031" stroke="#2a5fc6" stroke-width="2.8"/>
<text x="195" y="2040.3" font-size="28">3</text>
<g clip-path="url(#clipe)">
<polyline points="1057,1332.6 1088.76,1372.6 1120.53,1479.3 1152.29,1604.3 1184.05,1653.4 1215.81,1623 1247.58,1594.7 1279.34,1623 1311.1,1653.4 1342.86,1604.3 1374.62,1479.3 1406.39,1372.6 1438.15,1332.6 1469.91,1372.6 1501.67,1479.3 1533.44,1604.3 1565.2,1653.4 1596.96,1623 1628.72,1594.7 1660.49,1623 1692.25,1653.4 1724.01,1604.3 1755.78,1479.3 1787.54,1372.6 1819.3,1332.6" fill="none" stroke="#4a4a4a" stroke-width="3.5" stroke-linejoin="round"/>
<circle cx="1057" cy="1332.6" r="7.2" fill="#4a4a4a"/>
<circle cx="1088.76" cy="1372.6" r="7.2" fill="#4a4a4a"/>
<circle cx="1120.53" cy="1479.3" r="7.2" fill="#4a4a4a"/>
<circle cx="1152.29" cy="1604.3" r="7.2" fill="#4a4a4a"/>
<circle cx="1184.05" cy="1653.4" r="7.2" fill="#4a4a4a"/>
<circle cx="1215.81" cy="1623" r="7.2" fill="#4a4a4a"/>
<circle cx="1247.58" cy="1594.7" r="7.2" fill="#4a4a4a"/>
<circle cx="1279.34" cy="1623" r="7.2" fill="#4a4a4a"/>
<circle cx="1311.1" cy="1653.4" r="7.2" fill="#4a4a4a"/>
<circle cx="1342.86" cy="1604.3" r="7.2" fill="#4a4a4a"/>
<circle cx="1374.62" cy="1479.3" r="7.2" fill="#4a4a4a"/>
<circle cx="1406.39" cy="1372.6" r="7.2" fill="#4a4a4a"/>
<circle cx="1438.15" cy="1332.6" r="7.2" fill="#4a4a4a"/>
<circle cx="1469.91" cy="1372.6" r="7.2" fill="#4a4a4a"/>
<circle cx="1501.67" cy="1479.3" r="7.2" fill="#4a4a4a"/>
<circle cx="1533.44" cy="1604.3" r="7.2" fill="#4a4a4a"/>
<circle cx="1565.2" cy="1653.4" r="7.2" fill="#4a4a4a"/>
<circle cx="1596.96" cy="1623" r="7.2" fill="#4a4a4a"/>
<circle cx="1628.72" cy="1594.7" r="7.2" fill="#4a4a4a"/>
<circle cx="1660.49" cy="1623" r="7.2" fill="#4a4a4a"/>
<circle cx="1692.25" cy="1653.4" r="7.2" fill="#4a4a4a"/>
<circle cx="1724.01" cy="1604.3" r="7.2" fill="#4a4a4a"/>
<circle cx="1755.78" cy="1479.3" r="7.2" fill="#4a4a4a"/>
<circle cx="1787.54" cy="1372.6" r="7.2" fill="#4a4a4a"/>
<circle cx="1819.3" cy="1332.6" r="7.2" fill="#4a4a4a"/>
</g>
<rect x="1057" y="1213.7" width="762.3" height="534.3" fill="none" stroke="#000" stroke-width="3.6"/>
<line x1="1044" y1="1747" x2="1057" y2="1747" stroke="#000" stroke-width="3.4"/>
<line x1="1044" y1="1290.4" x2="1057" y2="1290.4" stroke="#000" stroke-width="3.4"/>
<line x1="1051" y1="1518.7" x2="1057" y2="1518.7" stroke="#000" stroke-width="3.4"/>
<line x1="1215.81" y1="1748" x2="1215.81" y2="1761" stroke="#000" stroke-width="3.4"/>
<line x1="1406.39" y1="1748" x2="1406.39" y2="1761" stroke="#000" stroke-width="3.4"/>
<line x1="1596.96" y1="1748" x2="1596.96" y2="1761" stroke="#000" stroke-width="3.4"/>
<line x1="1787.54" y1="1748" x2="1787.54" y2="1761" stroke="#000" stroke-width="3.4"/>
<line x1="1120.53" y1="1748" x2="1120.53" y2="1754" stroke="#000" stroke-width="3.4"/>
<line x1="1311.1" y1="1748" x2="1311.1" y2="1754" stroke="#000" stroke-width="3.4"/>
<line x1="1501.67" y1="1748" x2="1501.67" y2="1754" stroke="#000" stroke-width="3.4"/>
<line x1="1692.25" y1="1748" x2="1692.25" y2="1754" stroke="#000" stroke-width="3.4"/>
<text x="1033.5" y="1754.8" font-size="27" text-anchor="end">0.116</text>
<text x="1033.5" y="1298.2" font-size="27" text-anchor="end">0.119</text>
<text x="1215.81" y="1792.2" font-size="27" text-anchor="middle">6</text>
<text x="1406.39" y="1792.2" font-size="27" text-anchor="middle">12</text>
<text x="1596.96" y="1792.2" font-size="27" text-anchor="middle">18</text>
<text x="1787.54" y="1792.2" font-size="27" text-anchor="middle">24</text>
<text transform="translate(1022.3,1482.85) rotate(-90)" font-size="28.3" font-weight="bold" text-anchor="middle">peak position</text>
<text x="1438.15" y="1818.5" font-size="28.3" font-weight="bold" text-anchor="middle">site #</text>
<g clip-path="url(#clipg)">
<polyline points="1057,2085 1120.53,2309.3 1184.05,2175.4 1247.58,2309.3 1311.1,2085 1374.62,2309.3 1438.15,2175.4 1501.67,2309.3 1565.2,2085 1628.72,2309.3 1692.25,2175.4 1755.78,2309.3 1819.3,2085" fill="none" stroke="#4a4a4a" stroke-width="3.5" stroke-linejoin="round"/>
<circle cx="1057" cy="2085" r="7.2" fill="#4a4a4a"/>
<circle cx="1120.53" cy="2309.3" r="7.2" fill="#4a4a4a"/>
<circle cx="1184.05" cy="2175.4" r="7.2" fill="#4a4a4a"/>
<circle cx="1247.58" cy="2309.3" r="7.2" fill="#4a4a4a"/>
<circle cx="1311.1" cy="2085" r="7.2" fill="#4a4a4a"/>
<circle cx="1374.62" cy="2309.3" r="7.2" fill="#4a4a4a"/>
<circle cx="1438.15" cy="2175.4" r="7.2" fill="#4a4a4a"/>
<circle cx="1501.67" cy="2309.3" r="7.2" fill="#4a4a4a"/>
<circle cx="1565.2" cy="2085" r="7.2" fill="#4a4a4a"/>
<circle cx="1628.72" cy="2309.3" r="7.2" fill="#4a4a4a"/>
<circle cx="1692.25" cy="2175.4" r="7.2" fill="#4a4a4a"/>
<circle cx="1755.78" cy="2309.3" r="7.2" fill="#4a4a4a"/>
<circle cx="1819.3" cy="2085" r="7.2" fill="#4a4a4a"/>
</g>
<rect x="1057" y="1900" width="762.3" height="533.2" fill="none" stroke="#000" stroke-width="3.6"/>
<line x1="1044" y1="2433.2" x2="1057" y2="2433.2" stroke="#000" stroke-width="3.4"/>
<line x1="1044" y1="1984.4" x2="1057" y2="1984.4" stroke="#000" stroke-width="3.4"/>
<line x1="1051" y1="2208.8" x2="1057" y2="2208.8" stroke="#000" stroke-width="3.4"/>
<line x1="1120.53" y1="2433.2" x2="1120.53" y2="2446.2" stroke="#000" stroke-width="3.4"/>
<line x1="1247.58" y1="2433.2" x2="1247.58" y2="2446.2" stroke="#000" stroke-width="3.4"/>
<line x1="1374.62" y1="2433.2" x2="1374.62" y2="2446.2" stroke="#000" stroke-width="3.4"/>
<line x1="1501.67" y1="2433.2" x2="1501.67" y2="2446.2" stroke="#000" stroke-width="3.4"/>
<line x1="1628.72" y1="2433.2" x2="1628.72" y2="2446.2" stroke="#000" stroke-width="3.4"/>
<line x1="1755.78" y1="2433.2" x2="1755.78" y2="2446.2" stroke="#000" stroke-width="3.4"/>
<line x1="1057" y1="2433.2" x2="1057" y2="2439.2" stroke="#000" stroke-width="3.4"/>
<line x1="1184.05" y1="2433.2" x2="1184.05" y2="2439.2" stroke="#000" stroke-width="3.4"/>
<line x1="1311.1" y1="2433.2" x2="1311.1" y2="2439.2" stroke="#000" stroke-width="3.4"/>
<line x1="1438.15" y1="2433.2" x2="1438.15" y2="2439.2" stroke="#000" stroke-width="3.4"/>
<line x1="1565.2" y1="2433.2" x2="1565.2" y2="2439.2" stroke="#000" stroke-width="3.4"/>
<line x1="1692.25" y1="2433.2" x2="1692.25" y2="2439.2" stroke="#000" stroke-width="3.4"/>
<line x1="1819.3" y1="2433.2" x2="1819.3" y2="2439.2" stroke="#000" stroke-width="3.4"/>
<text x="1033.5" y="2441" font-size="27" text-anchor="end">0.1015</text>
<text x="1033.5" y="1992.2" font-size="27" text-anchor="end">0.1023</text>
<text x="1120.53" y="2477.4" font-size="27" text-anchor="middle">2</text>
<text x="1247.58" y="2477.4" font-size="27" text-anchor="middle">4</text>
<text x="1374.62" y="2477.4" font-size="27" text-anchor="middle">6</text>
<text x="1501.67" y="2477.4" font-size="27" text-anchor="middle">8</text>
<text x="1628.72" y="2477.4" font-size="27" text-anchor="middle">10</text>
<text x="1755.78" y="2477.4" font-size="27" text-anchor="middle">12</text>
<text transform="translate(1028,2168.6) rotate(-90)" font-size="28.3" font-weight="bold" text-anchor="middle">peak position</text>
<text x="1438.15" y="2503.7" font-size="28.3" font-weight="bold" text-anchor="middle">site #</text>
</svg></body></html>
